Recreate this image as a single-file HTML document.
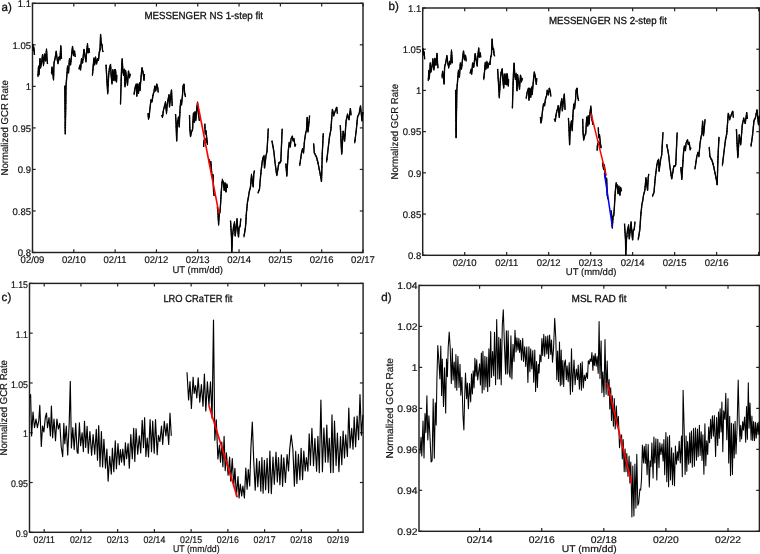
<!DOCTYPE html>
<html><head><meta charset="utf-8"><style>
html,body{margin:0;padding:0;background:#fff;}
svg{display:block;will-change:transform;}
text{font-family:"Liberation Sans",sans-serif;fill:#111;stroke:#111;stroke-width:0.18px;text-rendering:geometricPrecision;}
.t{stroke-width:0.3px;}
</style></head><body>
<svg width="760" height="554" viewBox="0 0 760 554">
<rect x="32.50" y="3.30" width="330.50" height="249.20" fill="none" stroke="#222" stroke-width="1.45"/>
<line x1="32.50" y1="252.50" x2="35.70" y2="252.50" stroke="#222" stroke-width="1.2"/>
<line x1="363.00" y1="252.50" x2="359.80" y2="252.50" stroke="#222" stroke-width="1.2"/>
<text x="31.00" y="256.30" font-size="9.7" text-anchor="end" textLength="13.21" lengthAdjust="spacingAndGlyphs" >0.8</text>
<line x1="32.50" y1="210.97" x2="35.70" y2="210.97" stroke="#222" stroke-width="1.2"/>
<line x1="363.00" y1="210.97" x2="359.80" y2="210.97" stroke="#222" stroke-width="1.2"/>
<text x="31.00" y="214.77" font-size="9.7" text-anchor="end" textLength="18.5" lengthAdjust="spacingAndGlyphs" >0.85</text>
<line x1="32.50" y1="169.43" x2="35.70" y2="169.43" stroke="#222" stroke-width="1.2"/>
<line x1="363.00" y1="169.43" x2="359.80" y2="169.43" stroke="#222" stroke-width="1.2"/>
<text x="31.00" y="173.23" font-size="9.7" text-anchor="end" textLength="13.21" lengthAdjust="spacingAndGlyphs" >0.9</text>
<line x1="32.50" y1="127.90" x2="35.70" y2="127.90" stroke="#222" stroke-width="1.2"/>
<line x1="363.00" y1="127.90" x2="359.80" y2="127.90" stroke="#222" stroke-width="1.2"/>
<text x="31.00" y="131.70" font-size="9.7" text-anchor="end" textLength="18.5" lengthAdjust="spacingAndGlyphs" >0.95</text>
<line x1="32.50" y1="86.37" x2="35.70" y2="86.37" stroke="#222" stroke-width="1.2"/>
<line x1="363.00" y1="86.37" x2="359.80" y2="86.37" stroke="#222" stroke-width="1.2"/>
<text x="31.00" y="90.17" font-size="9.7" text-anchor="end" textLength="5.29" lengthAdjust="spacingAndGlyphs" >1</text>
<line x1="32.50" y1="44.83" x2="35.70" y2="44.83" stroke="#222" stroke-width="1.2"/>
<line x1="363.00" y1="44.83" x2="359.80" y2="44.83" stroke="#222" stroke-width="1.2"/>
<text x="31.00" y="48.63" font-size="9.7" text-anchor="end" textLength="18.5" lengthAdjust="spacingAndGlyphs" >1.05</text>
<line x1="32.50" y1="3.30" x2="35.70" y2="3.30" stroke="#222" stroke-width="1.2"/>
<line x1="363.00" y1="3.30" x2="359.80" y2="3.30" stroke="#222" stroke-width="1.2"/>
<text x="31.00" y="7.10" font-size="9.7" text-anchor="end" textLength="13.21" lengthAdjust="spacingAndGlyphs" >1.1</text>
<line x1="32.50" y1="252.50" x2="32.50" y2="249.30" stroke="#222" stroke-width="1.2"/>
<line x1="32.50" y1="3.30" x2="32.50" y2="6.50" stroke="#222" stroke-width="1.2"/>
<text x="32.50" y="263.00" font-size="9.7" text-anchor="middle" textLength="23.79" lengthAdjust="spacingAndGlyphs" >02/09</text>
<line x1="73.81" y1="252.50" x2="73.81" y2="249.30" stroke="#222" stroke-width="1.2"/>
<line x1="73.81" y1="3.30" x2="73.81" y2="6.50" stroke="#222" stroke-width="1.2"/>
<text x="73.81" y="263.00" font-size="9.7" text-anchor="middle" textLength="23.79" lengthAdjust="spacingAndGlyphs" >02/10</text>
<line x1="115.12" y1="252.50" x2="115.12" y2="249.30" stroke="#222" stroke-width="1.2"/>
<line x1="115.12" y1="3.30" x2="115.12" y2="6.50" stroke="#222" stroke-width="1.2"/>
<text x="115.12" y="263.00" font-size="9.7" text-anchor="middle" textLength="23.08" lengthAdjust="spacingAndGlyphs" >02/11</text>
<line x1="156.44" y1="252.50" x2="156.44" y2="249.30" stroke="#222" stroke-width="1.2"/>
<line x1="156.44" y1="3.30" x2="156.44" y2="6.50" stroke="#222" stroke-width="1.2"/>
<text x="156.44" y="263.00" font-size="9.7" text-anchor="middle" textLength="23.79" lengthAdjust="spacingAndGlyphs" >02/12</text>
<line x1="197.75" y1="252.50" x2="197.75" y2="249.30" stroke="#222" stroke-width="1.2"/>
<line x1="197.75" y1="3.30" x2="197.75" y2="6.50" stroke="#222" stroke-width="1.2"/>
<text x="197.75" y="263.00" font-size="9.7" text-anchor="middle" textLength="23.79" lengthAdjust="spacingAndGlyphs" >02/13</text>
<line x1="239.06" y1="252.50" x2="239.06" y2="249.30" stroke="#222" stroke-width="1.2"/>
<line x1="239.06" y1="3.30" x2="239.06" y2="6.50" stroke="#222" stroke-width="1.2"/>
<text x="239.06" y="263.00" font-size="9.7" text-anchor="middle" textLength="23.79" lengthAdjust="spacingAndGlyphs" >02/14</text>
<line x1="280.38" y1="252.50" x2="280.38" y2="249.30" stroke="#222" stroke-width="1.2"/>
<line x1="280.38" y1="3.30" x2="280.38" y2="6.50" stroke="#222" stroke-width="1.2"/>
<text x="280.38" y="263.00" font-size="9.7" text-anchor="middle" textLength="23.79" lengthAdjust="spacingAndGlyphs" >02/15</text>
<line x1="321.69" y1="252.50" x2="321.69" y2="249.30" stroke="#222" stroke-width="1.2"/>
<line x1="321.69" y1="3.30" x2="321.69" y2="6.50" stroke="#222" stroke-width="1.2"/>
<text x="321.69" y="263.00" font-size="9.7" text-anchor="middle" textLength="23.79" lengthAdjust="spacingAndGlyphs" >02/16</text>
<line x1="363.00" y1="252.50" x2="363.00" y2="249.30" stroke="#222" stroke-width="1.2"/>
<line x1="363.00" y1="3.30" x2="363.00" y2="6.50" stroke="#222" stroke-width="1.2"/>
<text x="363.00" y="263.00" font-size="9.7" text-anchor="middle" textLength="23.79" lengthAdjust="spacingAndGlyphs" >02/17</text>
<text x="197.75" y="272.50" font-size="9.7" text-anchor="middle" textLength="50.52" lengthAdjust="spacingAndGlyphs" >UT (mm/dd)</text>
<text x="8.10" y="175.50" font-size="10" text-anchor="start" textLength="95.3" lengthAdjust="spacingAndGlyphs" transform="rotate(-90 8.1 175.5)">Normalized GCR Rate</text>
<text x="144.50" y="18.50" font-size="10.3" text-anchor="start" textLength="118.5" lengthAdjust="spacingAndGlyphs" class="t">MESSENGER NS 1-step fit</text>
<text x="1.50" y="10.60" font-size="11.6" text-anchor="start" class="t">a)</text>
<rect x="422.70" y="8.00" width="336.80" height="247.30" fill="none" stroke="#222" stroke-width="1.45"/>
<line x1="422.70" y1="255.30" x2="425.90" y2="255.30" stroke="#222" stroke-width="1.2"/>
<line x1="759.50" y1="255.30" x2="756.30" y2="255.30" stroke="#222" stroke-width="1.2"/>
<text x="421.20" y="259.10" font-size="9.7" text-anchor="end" textLength="13.21" lengthAdjust="spacingAndGlyphs" >0.8</text>
<line x1="422.70" y1="214.08" x2="425.90" y2="214.08" stroke="#222" stroke-width="1.2"/>
<line x1="759.50" y1="214.08" x2="756.30" y2="214.08" stroke="#222" stroke-width="1.2"/>
<text x="421.20" y="217.88" font-size="9.7" text-anchor="end" textLength="18.5" lengthAdjust="spacingAndGlyphs" >0.85</text>
<line x1="422.70" y1="172.87" x2="425.90" y2="172.87" stroke="#222" stroke-width="1.2"/>
<line x1="759.50" y1="172.87" x2="756.30" y2="172.87" stroke="#222" stroke-width="1.2"/>
<text x="421.20" y="176.67" font-size="9.7" text-anchor="end" textLength="13.21" lengthAdjust="spacingAndGlyphs" >0.9</text>
<line x1="422.70" y1="131.65" x2="425.90" y2="131.65" stroke="#222" stroke-width="1.2"/>
<line x1="759.50" y1="131.65" x2="756.30" y2="131.65" stroke="#222" stroke-width="1.2"/>
<text x="421.20" y="135.45" font-size="9.7" text-anchor="end" textLength="18.5" lengthAdjust="spacingAndGlyphs" >0.95</text>
<line x1="422.70" y1="90.43" x2="425.90" y2="90.43" stroke="#222" stroke-width="1.2"/>
<line x1="759.50" y1="90.43" x2="756.30" y2="90.43" stroke="#222" stroke-width="1.2"/>
<text x="421.20" y="94.23" font-size="9.7" text-anchor="end" textLength="5.29" lengthAdjust="spacingAndGlyphs" >1</text>
<line x1="422.70" y1="49.22" x2="425.90" y2="49.22" stroke="#222" stroke-width="1.2"/>
<line x1="759.50" y1="49.22" x2="756.30" y2="49.22" stroke="#222" stroke-width="1.2"/>
<text x="421.20" y="53.02" font-size="9.7" text-anchor="end" textLength="18.5" lengthAdjust="spacingAndGlyphs" >1.05</text>
<line x1="422.70" y1="8.00" x2="425.90" y2="8.00" stroke="#222" stroke-width="1.2"/>
<line x1="759.50" y1="8.00" x2="756.30" y2="8.00" stroke="#222" stroke-width="1.2"/>
<text x="421.20" y="11.80" font-size="9.7" text-anchor="end" textLength="13.21" lengthAdjust="spacingAndGlyphs" >1.1</text>
<line x1="422.70" y1="255.30" x2="422.70" y2="252.10" stroke="#222" stroke-width="1.2"/>
<line x1="422.70" y1="8.00" x2="422.70" y2="11.20" stroke="#222" stroke-width="1.2"/>
<line x1="464.69" y1="255.30" x2="464.69" y2="252.10" stroke="#222" stroke-width="1.2"/>
<line x1="464.69" y1="8.00" x2="464.69" y2="11.20" stroke="#222" stroke-width="1.2"/>
<text x="464.69" y="265.50" font-size="9.7" text-anchor="middle" textLength="23.79" lengthAdjust="spacingAndGlyphs" >02/10</text>
<line x1="506.68" y1="255.30" x2="506.68" y2="252.10" stroke="#222" stroke-width="1.2"/>
<line x1="506.68" y1="8.00" x2="506.68" y2="11.20" stroke="#222" stroke-width="1.2"/>
<text x="506.68" y="265.50" font-size="9.7" text-anchor="middle" textLength="23.08" lengthAdjust="spacingAndGlyphs" >02/11</text>
<line x1="548.67" y1="255.30" x2="548.67" y2="252.10" stroke="#222" stroke-width="1.2"/>
<line x1="548.67" y1="8.00" x2="548.67" y2="11.20" stroke="#222" stroke-width="1.2"/>
<text x="548.67" y="265.50" font-size="9.7" text-anchor="middle" textLength="23.79" lengthAdjust="spacingAndGlyphs" >02/12</text>
<line x1="590.66" y1="255.30" x2="590.66" y2="252.10" stroke="#222" stroke-width="1.2"/>
<line x1="590.66" y1="8.00" x2="590.66" y2="11.20" stroke="#222" stroke-width="1.2"/>
<text x="590.66" y="265.50" font-size="9.7" text-anchor="middle" textLength="23.79" lengthAdjust="spacingAndGlyphs" >02/13</text>
<line x1="632.65" y1="255.30" x2="632.65" y2="252.10" stroke="#222" stroke-width="1.2"/>
<line x1="632.65" y1="8.00" x2="632.65" y2="11.20" stroke="#222" stroke-width="1.2"/>
<text x="632.65" y="265.50" font-size="9.7" text-anchor="middle" textLength="23.79" lengthAdjust="spacingAndGlyphs" >02/14</text>
<line x1="674.64" y1="255.30" x2="674.64" y2="252.10" stroke="#222" stroke-width="1.2"/>
<line x1="674.64" y1="8.00" x2="674.64" y2="11.20" stroke="#222" stroke-width="1.2"/>
<text x="674.64" y="265.50" font-size="9.7" text-anchor="middle" textLength="23.79" lengthAdjust="spacingAndGlyphs" >02/15</text>
<line x1="716.63" y1="255.30" x2="716.63" y2="252.10" stroke="#222" stroke-width="1.2"/>
<line x1="716.63" y1="8.00" x2="716.63" y2="11.20" stroke="#222" stroke-width="1.2"/>
<text x="716.63" y="265.50" font-size="9.7" text-anchor="middle" textLength="23.79" lengthAdjust="spacingAndGlyphs" >02/16</text>
<line x1="758.62" y1="255.30" x2="758.62" y2="252.10" stroke="#222" stroke-width="1.2"/>
<line x1="758.62" y1="8.00" x2="758.62" y2="11.20" stroke="#222" stroke-width="1.2"/>
<text x="591.10" y="275.00" font-size="9.7" text-anchor="middle" textLength="50.52" lengthAdjust="spacingAndGlyphs" >UT (mm/dd)</text>
<text x="398.30" y="179.50" font-size="10" text-anchor="start" textLength="95.6" lengthAdjust="spacingAndGlyphs" transform="rotate(-90 398.3 179.5)">Normalized GCR Rate</text>
<text x="548.90" y="24.30" font-size="10.3" text-anchor="start" textLength="118" lengthAdjust="spacingAndGlyphs" class="t">MESSENGER NS 2-step fit</text>
<text x="388.50" y="10.40" font-size="11.6" text-anchor="start" class="t">b)</text>
<rect x="29.50" y="283.40" width="333.60" height="248.90" fill="none" stroke="#222" stroke-width="1.45"/>
<line x1="29.50" y1="532.30" x2="32.70" y2="532.30" stroke="#222" stroke-width="1.2"/>
<line x1="363.10" y1="532.30" x2="359.90" y2="532.30" stroke="#222" stroke-width="1.2"/>
<text x="28.00" y="537.00" font-size="9.7" text-anchor="end" textLength="12.22" lengthAdjust="spacingAndGlyphs" >0.9</text>
<line x1="29.50" y1="482.52" x2="32.70" y2="482.52" stroke="#222" stroke-width="1.2"/>
<line x1="363.10" y1="482.52" x2="359.90" y2="482.52" stroke="#222" stroke-width="1.2"/>
<text x="28.00" y="487.22" font-size="9.7" text-anchor="end" textLength="17.11" lengthAdjust="spacingAndGlyphs" >0.95</text>
<line x1="29.50" y1="432.74" x2="32.70" y2="432.74" stroke="#222" stroke-width="1.2"/>
<line x1="363.10" y1="432.74" x2="359.90" y2="432.74" stroke="#222" stroke-width="1.2"/>
<text x="28.00" y="437.44" font-size="9.7" text-anchor="end" textLength="4.89" lengthAdjust="spacingAndGlyphs" >1</text>
<line x1="29.50" y1="382.96" x2="32.70" y2="382.96" stroke="#222" stroke-width="1.2"/>
<line x1="363.10" y1="382.96" x2="359.90" y2="382.96" stroke="#222" stroke-width="1.2"/>
<text x="28.00" y="387.66" font-size="9.7" text-anchor="end" textLength="17.11" lengthAdjust="spacingAndGlyphs" >1.05</text>
<line x1="29.50" y1="333.18" x2="32.70" y2="333.18" stroke="#222" stroke-width="1.2"/>
<line x1="363.10" y1="333.18" x2="359.90" y2="333.18" stroke="#222" stroke-width="1.2"/>
<text x="28.00" y="337.88" font-size="9.7" text-anchor="end" textLength="12.22" lengthAdjust="spacingAndGlyphs" >1.1</text>
<line x1="29.50" y1="283.40" x2="32.70" y2="283.40" stroke="#222" stroke-width="1.2"/>
<line x1="363.10" y1="283.40" x2="359.90" y2="283.40" stroke="#222" stroke-width="1.2"/>
<text x="28.00" y="288.10" font-size="9.7" text-anchor="end" textLength="17.11" lengthAdjust="spacingAndGlyphs" >1.15</text>
<line x1="44.20" y1="532.30" x2="44.20" y2="529.10" stroke="#222" stroke-width="1.2"/>
<line x1="44.20" y1="283.40" x2="44.20" y2="286.60" stroke="#222" stroke-width="1.2"/>
<text x="44.20" y="543.20" font-size="9.7" text-anchor="middle" textLength="21.35" lengthAdjust="spacingAndGlyphs" >02/11</text>
<line x1="80.93" y1="532.30" x2="80.93" y2="529.10" stroke="#222" stroke-width="1.2"/>
<line x1="80.93" y1="283.40" x2="80.93" y2="286.60" stroke="#222" stroke-width="1.2"/>
<text x="80.93" y="543.20" font-size="9.7" text-anchor="middle" textLength="22.0" lengthAdjust="spacingAndGlyphs" >02/12</text>
<line x1="117.66" y1="532.30" x2="117.66" y2="529.10" stroke="#222" stroke-width="1.2"/>
<line x1="117.66" y1="283.40" x2="117.66" y2="286.60" stroke="#222" stroke-width="1.2"/>
<text x="117.66" y="543.20" font-size="9.7" text-anchor="middle" textLength="22.0" lengthAdjust="spacingAndGlyphs" >02/13</text>
<line x1="154.39" y1="532.30" x2="154.39" y2="529.10" stroke="#222" stroke-width="1.2"/>
<line x1="154.39" y1="283.40" x2="154.39" y2="286.60" stroke="#222" stroke-width="1.2"/>
<text x="154.39" y="543.20" font-size="9.7" text-anchor="middle" textLength="22.0" lengthAdjust="spacingAndGlyphs" >02/14</text>
<line x1="191.12" y1="532.30" x2="191.12" y2="529.10" stroke="#222" stroke-width="1.2"/>
<line x1="191.12" y1="283.40" x2="191.12" y2="286.60" stroke="#222" stroke-width="1.2"/>
<text x="191.12" y="543.20" font-size="9.7" text-anchor="middle" textLength="22.0" lengthAdjust="spacingAndGlyphs" >02/15</text>
<line x1="227.86" y1="532.30" x2="227.86" y2="529.10" stroke="#222" stroke-width="1.2"/>
<line x1="227.86" y1="283.40" x2="227.86" y2="286.60" stroke="#222" stroke-width="1.2"/>
<text x="227.86" y="543.20" font-size="9.7" text-anchor="middle" textLength="22.0" lengthAdjust="spacingAndGlyphs" >02/16</text>
<line x1="264.59" y1="532.30" x2="264.59" y2="529.10" stroke="#222" stroke-width="1.2"/>
<line x1="264.59" y1="283.40" x2="264.59" y2="286.60" stroke="#222" stroke-width="1.2"/>
<text x="264.59" y="543.20" font-size="9.7" text-anchor="middle" textLength="22.0" lengthAdjust="spacingAndGlyphs" >02/17</text>
<line x1="301.32" y1="532.30" x2="301.32" y2="529.10" stroke="#222" stroke-width="1.2"/>
<line x1="301.32" y1="283.40" x2="301.32" y2="286.60" stroke="#222" stroke-width="1.2"/>
<text x="301.32" y="543.20" font-size="9.7" text-anchor="middle" textLength="22.0" lengthAdjust="spacingAndGlyphs" >02/18</text>
<line x1="338.05" y1="532.30" x2="338.05" y2="529.10" stroke="#222" stroke-width="1.2"/>
<line x1="338.05" y1="283.40" x2="338.05" y2="286.60" stroke="#222" stroke-width="1.2"/>
<text x="338.05" y="543.20" font-size="9.7" text-anchor="middle" textLength="22.0" lengthAdjust="spacingAndGlyphs" >02/19</text>
<text x="196.30" y="551.60" font-size="9.7" text-anchor="middle" textLength="46.73" lengthAdjust="spacingAndGlyphs" >UT (mm/dd)</text>
<text x="7.00" y="455.40" font-size="10" text-anchor="start" textLength="95.3" lengthAdjust="spacingAndGlyphs" transform="rotate(-90 7.0 455.4)">Normalized GCR Rate</text>
<text x="163.40" y="302.20" font-size="10.3" text-anchor="start" textLength="69" lengthAdjust="spacingAndGlyphs" class="t">LRO CRaTER fit</text>
<text x="1.60" y="300.90" font-size="11.6" text-anchor="start" class="t">c)</text>
<rect x="419.00" y="285.45" width="340.40" height="245.85" fill="none" stroke="#222" stroke-width="1.45"/>
<line x1="419.00" y1="531.30" x2="422.20" y2="531.30" stroke="#222" stroke-width="1.2"/>
<line x1="759.40" y1="531.30" x2="756.20" y2="531.30" stroke="#222" stroke-width="1.2"/>
<text x="417.50" y="535.10" font-size="9.7" text-anchor="end" textLength="20.17" lengthAdjust="spacingAndGlyphs" >0.92</text>
<line x1="419.00" y1="490.33" x2="422.20" y2="490.33" stroke="#222" stroke-width="1.2"/>
<line x1="759.40" y1="490.33" x2="756.20" y2="490.33" stroke="#222" stroke-width="1.2"/>
<text x="417.50" y="494.13" font-size="9.7" text-anchor="end" textLength="20.17" lengthAdjust="spacingAndGlyphs" >0.94</text>
<line x1="419.00" y1="449.35" x2="422.20" y2="449.35" stroke="#222" stroke-width="1.2"/>
<line x1="759.40" y1="449.35" x2="756.20" y2="449.35" stroke="#222" stroke-width="1.2"/>
<text x="417.50" y="453.15" font-size="9.7" text-anchor="end" textLength="20.17" lengthAdjust="spacingAndGlyphs" >0.96</text>
<line x1="419.00" y1="408.38" x2="422.20" y2="408.38" stroke="#222" stroke-width="1.2"/>
<line x1="759.40" y1="408.38" x2="756.20" y2="408.38" stroke="#222" stroke-width="1.2"/>
<text x="417.50" y="412.18" font-size="9.7" text-anchor="end" textLength="20.17" lengthAdjust="spacingAndGlyphs" >0.98</text>
<line x1="419.00" y1="367.40" x2="422.20" y2="367.40" stroke="#222" stroke-width="1.2"/>
<line x1="759.40" y1="367.40" x2="756.20" y2="367.40" stroke="#222" stroke-width="1.2"/>
<text x="417.50" y="371.20" font-size="9.7" text-anchor="end" textLength="5.76" lengthAdjust="spacingAndGlyphs" >1</text>
<line x1="419.00" y1="326.43" x2="422.20" y2="326.43" stroke="#222" stroke-width="1.2"/>
<line x1="759.40" y1="326.43" x2="756.20" y2="326.43" stroke="#222" stroke-width="1.2"/>
<text x="417.50" y="330.23" font-size="9.7" text-anchor="end" textLength="20.17" lengthAdjust="spacingAndGlyphs" >1.02</text>
<line x1="419.00" y1="285.45" x2="422.20" y2="285.45" stroke="#222" stroke-width="1.2"/>
<line x1="759.40" y1="285.45" x2="756.20" y2="285.45" stroke="#222" stroke-width="1.2"/>
<text x="417.50" y="289.25" font-size="9.7" text-anchor="end" textLength="20.17" lengthAdjust="spacingAndGlyphs" >1.04</text>
<line x1="479.61" y1="531.30" x2="479.61" y2="528.10" stroke="#222" stroke-width="1.2"/>
<line x1="479.61" y1="285.45" x2="479.61" y2="288.65" stroke="#222" stroke-width="1.2"/>
<text x="479.61" y="543.00" font-size="9.7" text-anchor="middle" textLength="25.93" lengthAdjust="spacingAndGlyphs" >02/14</text>
<line x1="541.71" y1="531.30" x2="541.71" y2="528.10" stroke="#222" stroke-width="1.2"/>
<line x1="541.71" y1="285.45" x2="541.71" y2="288.65" stroke="#222" stroke-width="1.2"/>
<text x="541.71" y="543.00" font-size="9.7" text-anchor="middle" textLength="25.93" lengthAdjust="spacingAndGlyphs" >02/16</text>
<line x1="603.81" y1="531.30" x2="603.81" y2="528.10" stroke="#222" stroke-width="1.2"/>
<line x1="603.81" y1="285.45" x2="603.81" y2="288.65" stroke="#222" stroke-width="1.2"/>
<text x="603.81" y="543.00" font-size="9.7" text-anchor="middle" textLength="25.93" lengthAdjust="spacingAndGlyphs" >02/18</text>
<line x1="665.91" y1="531.30" x2="665.91" y2="528.10" stroke="#222" stroke-width="1.2"/>
<line x1="665.91" y1="285.45" x2="665.91" y2="288.65" stroke="#222" stroke-width="1.2"/>
<text x="665.91" y="543.00" font-size="9.7" text-anchor="middle" textLength="25.93" lengthAdjust="spacingAndGlyphs" >02/20</text>
<line x1="728.01" y1="531.30" x2="728.01" y2="528.10" stroke="#222" stroke-width="1.2"/>
<line x1="728.01" y1="285.45" x2="728.01" y2="288.65" stroke="#222" stroke-width="1.2"/>
<text x="728.01" y="543.00" font-size="9.7" text-anchor="middle" textLength="25.93" lengthAdjust="spacingAndGlyphs" >02/22</text>
<text x="589.20" y="551.60" font-size="9.7" text-anchor="middle" textLength="55.07" lengthAdjust="spacingAndGlyphs" >UT (mm/dd)</text>
<text x="392.80" y="458.60" font-size="10" text-anchor="start" textLength="100.5" lengthAdjust="spacingAndGlyphs" transform="rotate(-90 392.8 458.6)">Normalized GCR Rate</text>
<text x="571.50" y="301.90" font-size="10.3" text-anchor="start" textLength="55" lengthAdjust="spacingAndGlyphs" class="t">MSL RAD fit</text>
<text x="381.20" y="301.10" font-size="11.6" text-anchor="start" class="t">d)</text>
<polyline points="32.6,44.0 33.3,50.0 33.8,47.0 34.5,55.0" fill="none" stroke="#000" stroke-width="1.35" stroke-linejoin="round"/>
<polyline points="38.0,76.5 38.5,67.0 39.0,74.0 40.0,59.0 40.5,68.0 41.5,63.0 42.5,55.0 43.5,65.0 44.5,54.0 45.5,61.0 46.5,49.5 47.0,58.0 47.5,64.0" fill="none" stroke="#000" stroke-width="1.35" stroke-linejoin="round"/>
<polyline points="51.5,73.0 52.0,67.0 53.0,75.0 53.5,79.5 54.0,63.0 55.0,59.0 56.2,51.5 57.0,58.0 58.0,63.0 59.0,57.0 60.0,59.0 60.8,46.5 61.5,59.0" fill="none" stroke="#000" stroke-width="1.35" stroke-linejoin="round"/>
<polyline points="64.8,85.6 65.3,134.0 66.0,86.0 66.5,80.0 67.5,67.0 68.5,73.0 69.5,59.0 70.5,65.0 71.5,56.0 72.5,46.5 73.5,55.0 74.5,51.0 75.2,57.0" fill="none" stroke="#000" stroke-width="1.35" stroke-linejoin="round"/>
<polyline points="79.0,69.0 80.0,65.0 80.5,70.0 81.5,59.0 82.5,63.0 84.0,49.5 85.0,56.0 86.0,61.0 86.5,53.0 87.5,44.0 88.0,53.0 89.0,49.0 89.5,53.0" fill="none" stroke="#000" stroke-width="1.35" stroke-linejoin="round"/>
<polyline points="92.4,75.0 93.0,69.0 93.9,58.0 94.6,65.0 95.5,57.0 96.5,64.0 97.5,59.0 98.5,60.0 99.2,53.0 100.0,50.0 100.6,34.5 101.3,45.0 102.0,44.0 102.5,50.0 103.2,52.0" fill="none" stroke="#000" stroke-width="1.35" stroke-linejoin="round"/>
<polyline points="106.0,64.7 107.7,93.0 108.7,75.0 109.5,68.0 110.5,64.5 111.2,76.0 112.0,84.0 112.6,70.0 113.5,80.0 114.3,70.0 115.0,80.0 115.5,70.0 116.5,82.0 116.8,75.0" fill="none" stroke="#000" stroke-width="1.35" stroke-linejoin="round"/>
<polyline points="120.5,104.0 121.5,70.0 122.2,59.0 122.8,70.0 123.5,75.0 124.2,70.0 125.0,86.0 125.6,71.0 126.5,77.0 127.5,85.0 128.5,71.0 129.5,77.0 130.5,74.0" fill="none" stroke="#000" stroke-width="1.35" stroke-linejoin="round"/>
<polyline points="134.1,94.4 135.0,88.0 136.2,84.0 136.8,96.0 137.6,84.0 138.5,93.0 139.5,83.0 140.0,90.0 141.0,78.0 142.0,68.0 143.0,72.0 144.0,80.0 144.5,74.0" fill="none" stroke="#000" stroke-width="1.35" stroke-linejoin="round"/>
<polyline points="148.0,113.0 148.5,119.0 149.2,116.0 150.0,108.0 150.5,104.0 151.0,100.0 152.0,102.0 153.0,95.0 154.0,92.0 154.8,86.0 155.8,91.0 156.8,84.0 157.8,88.0 158.2,92.5" fill="none" stroke="#000" stroke-width="1.35" stroke-linejoin="round"/>
<polyline points="161.5,115.0 162.5,117.0 163.5,110.0 164.5,106.0 165.5,102.5 166.5,113.0 167.2,105.0 168.0,100.0 169.0,95.0 169.5,107.0 170.5,98.0 171.5,90.0 172.2,106.0" fill="none" stroke="#000" stroke-width="1.35" stroke-linejoin="round"/>
<polyline points="175.5,114.0 176.0,122.0 176.7,141.0 177.3,124.0 178.5,117.0 179.2,127.0 180.0,110.0 180.8,100.0 181.5,105.0 182.5,95.0 183.0,86.0 184.0,84.0 184.5,92.0 185.5,97.0" fill="none" stroke="#000" stroke-width="1.35" stroke-linejoin="round"/>
<polyline points="189.5,115.0 189.8,128.0 190.5,136.5 191.5,132.0 192.5,130.0 193.5,113.0 194.5,122.0 195.0,112.0 195.8,120.0 196.8,108.0 197.5,103.0 198.5,115.0 199.5,121.0" fill="none" stroke="#000" stroke-width="1.35" stroke-linejoin="round"/>
<polyline points="204.8,123.6 205.2,134.0 206.0,131.0 206.7,138.0 207.5,144.0 206.5,141.0 205.0,139.0 204.0,141.0 203.6,147.0" fill="none" stroke="#000" stroke-width="1.35" stroke-linejoin="round"/>
<polyline points="209.0,159.0 210.0,166.0 210.8,162.0 211.5,170.0 212.2,178.0 213.0,175.0 213.6,192.0 214.2,196.0" fill="none" stroke="#000" stroke-width="1.35" stroke-linejoin="round"/>
<polyline points="217.3,207.0 218.0,212.0 218.6,224.4 219.2,214.0 220.0,212.0 220.5,205.0 221.2,193.0 221.8,185.0 222.4,180.0 223.3,182.0 224.2,190.0 225.0,183.0 226.0,192.0 226.8,184.0 227.4,188.0" fill="none" stroke="#000" stroke-width="1.35" stroke-linejoin="round"/>
<polyline points="230.5,220.5 231.5,237.0 231.8,252.0 232.5,236.0 233.5,227.0 234.5,222.5 235.2,236.0 236.0,229.0 237.0,219.5 237.8,230.0 238.5,237.0 239.2,227.0 240.0,227.0 240.8,218.5" fill="none" stroke="#000" stroke-width="1.35" stroke-linejoin="round"/>
<polyline points="244.0,236.5 245.5,227.0 246.5,212.0 247.5,202.0 248.5,197.0 249.0,193.0 250.0,189.0 250.5,187.0 251.5,175.0 252.5,182.0 253.2,187.0 253.8,174.0 254.5,170.5" fill="none" stroke="#000" stroke-width="1.35" stroke-linejoin="round"/>
<polyline points="258.0,193.0 259.5,189.0 260.5,177.0 261.2,170.0 262.2,162.0 263.0,158.0 264.0,156.0 264.5,168.0 265.5,160.0 266.0,155.6 267.0,151.6 268.3,128.5" fill="none" stroke="#000" stroke-width="1.35" stroke-linejoin="round"/>
<polyline points="271.9,140.7 273.9,151.6 274.9,161.6 276.8,175.5 278.8,163.5 280.8,161.6 282.2,128.8" fill="none" stroke="#000" stroke-width="1.35" stroke-linejoin="round"/>
<polyline points="285.8,163.5 286.8,175.5 288.4,149.6 289.2,143.0 290.3,147.0 291.0,139.0 292.3,136.0 293.0,141.0 294.0,139.0 295.0,146.0 295.7,144.0" fill="none" stroke="#000" stroke-width="1.35" stroke-linejoin="round"/>
<polyline points="299.7,165.5 301.5,153.0 302.5,149.0 303.5,153.0 304.5,141.0 305.5,134.0 306.5,130.0 307.2,117.5 308.0,132.0 309.0,122.0 309.6,115.5" fill="none" stroke="#000" stroke-width="1.35" stroke-linejoin="round"/>
<polyline points="313.6,143.3 314.3,152.7 316.5,157.0 318.0,162.8 319.4,170.0 320.8,177.0 321.5,181.4 322.3,152.7 323.3,133.2" fill="none" stroke="#000" stroke-width="1.35" stroke-linejoin="round"/>
<polyline points="326.6,161.4 328.0,149.8 329.5,136.8 330.9,129.6 332.4,109.4 333.8,115.2 335.3,110.9 336.7,107.3 337.4,113.8" fill="none" stroke="#000" stroke-width="1.35" stroke-linejoin="round"/>
<polyline points="340.3,125.3 341.7,154.2 343.2,131.1 344.6,141.2 346.1,121.0 347.5,114.5 349.0,119.5 350.4,108.7 351.1,115.2" fill="none" stroke="#000" stroke-width="1.35" stroke-linejoin="round"/>
<polyline points="354.7,142.6 356.2,131.1 357.6,116.6 359.1,113.8 360.5,105.8 362.0,121.0 362.8,112.0" fill="none" stroke="#000" stroke-width="1.35" stroke-linejoin="round"/>
<polyline points="32.6,45.3 32.8,44.3 33.0,47.9 33.1,47.8 33.3,51.0 33.5,47.6 33.8,48.3 33.9,47.8 34.1,51.2 34.2,50.7 34.4,54.8 34.5,55.0" fill="none" stroke="#000" stroke-width="0.9" stroke-linejoin="round"/>
<polyline points="38.0,77.1 38.1,73.8 38.1,75.0 38.2,71.7 38.3,72.0 38.4,68.8 38.4,69.5 38.5,65.7 38.6,68.9 38.7,69.3 38.8,72.5 38.9,71.7 39.0,75.3 39.1,72.2 39.2,72.2 39.3,68.7 39.4,69.2 39.5,65.7 39.5,67.2 39.6,64.0 39.7,63.6 39.8,60.7 39.9,61.8 40.0,58.1 40.1,61.2 40.2,61.1 40.2,64.0 40.3,64.3 40.4,67.4 40.5,67.0 40.8,67.0 41.2,64.0 41.5,63.7 41.7,60.5 41.9,60.6 42.1,57.7 42.3,57.9 42.5,54.0 42.6,57.6 42.8,57.2 42.9,60.8 43.1,59.4 43.2,62.7 43.4,62.8 43.5,66.2 43.6,62.4 43.8,63.7 43.9,60.0 44.0,60.8 44.1,57.0 44.2,57.5 44.4,54.3 44.5,55.4 44.7,54.1 44.9,57.8 45.1,57.1 45.3,60.1 45.5,60.3 45.6,60.8 45.8,57.2 45.9,57.3 46.0,54.2 46.1,55.0 46.2,51.2 46.4,51.8 46.5,48.6 46.6,51.9 46.7,51.1 46.8,54.7 46.8,54.3 46.9,57.5 47.0,57.5 47.1,60.0 47.2,59.8 47.4,64.0 47.5,64.0" fill="none" stroke="#000" stroke-width="0.9" stroke-linejoin="round"/>
<polyline points="51.5,74.5 51.6,70.1 51.8,70.5 51.9,68.0 52.0,68.3 52.2,67.4 52.4,71.4 52.6,71.0 52.8,74.5 53.0,73.9 53.2,77.6 53.3,77.4 53.5,80.4 53.5,77.3 53.6,78.0 53.6,73.9 53.7,75.4 53.7,71.6 53.8,72.2 53.8,69.1 53.8,69.0 53.9,66.6 53.9,66.7 54.0,63.6 54.0,63.8 54.5,59.6 55.0,60.0 55.2,56.5 55.5,56.7 55.7,54.0 56.0,53.8 56.2,50.9 56.4,54.1 56.6,53.3 56.8,57.5 57.0,57.4 57.3,61.1 57.7,60.0 58.0,64.2 58.2,60.1 58.5,61.3 58.8,57.2 59.0,57.8 59.5,56.5 60.0,60.5 60.1,57.0 60.2,57.5 60.3,53.6 60.4,54.4 60.4,51.0 60.5,51.6 60.6,47.9 60.7,48.9 60.8,45.2 60.9,48.7 61.0,47.9 61.0,52.1 61.1,51.1 61.2,54.5 61.3,53.4 61.3,57.4 61.4,56.7 61.5,59.0" fill="none" stroke="#000" stroke-width="0.9" stroke-linejoin="round"/>
<polyline points="64.8,86.3 64.8,86.0 64.8,89.2 64.8,88.7 64.9,92.2 64.9,92.0 64.9,94.4 64.9,94.0 64.9,97.4 64.9,97.3 64.9,100.9 65.0,99.9 65.0,103.5 65.0,102.6 65.0,106.1 65.0,105.7 65.0,108.8 65.0,107.7 65.1,111.5 65.1,110.6 65.1,114.4 65.1,114.1 65.1,117.3 65.1,116.3 65.1,119.6 65.2,119.7 65.2,122.9 65.2,122.0 65.2,125.5 65.2,124.3 65.2,128.3 65.2,127.1 65.3,130.7 65.3,129.9 65.3,133.5 65.3,132.6 65.3,134.0 65.3,130.7 65.4,130.5 65.4,127.8 65.4,128.6 65.4,124.9 65.4,125.5 65.5,122.3 65.5,122.6 65.5,119.4 65.5,119.7 65.5,116.5 65.6,117.2 65.6,113.4 65.6,114.6 65.6,110.6 65.6,112.0 65.7,107.8 65.7,109.1 65.7,106.0 65.7,106.6 65.7,102.4 65.8,103.9 65.8,100.0 65.8,100.9 65.8,97.7 65.8,98.3 65.9,94.5 65.9,95.0 65.9,92.3 65.9,92.8 65.9,88.6 66.0,89.3 66.0,86.1 66.0,86.9 66.1,83.9 66.2,83.8 66.4,80.2 66.5,81.4 66.6,78.1 66.7,78.2 66.8,75.2 66.9,75.4 67.1,72.0 67.2,72.7 67.3,68.4 67.4,69.4 67.5,65.5 67.8,69.3 68.0,69.5 68.2,72.6 68.5,72.5 68.6,72.3 68.7,69.3 68.8,69.9 68.9,66.8 69.0,66.5 69.1,63.2 69.2,64.0 69.3,60.3 69.4,61.8 69.5,58.2 69.8,61.4 70.0,61.0 70.2,64.6 70.5,63.9 70.7,64.5 70.8,60.9 71.0,61.9 71.2,58.0 71.3,58.4 71.5,54.8 71.6,55.3 71.8,52.5 71.9,53.4 72.1,49.6 72.2,50.2 72.4,47.4 72.5,47.4 72.7,46.9 72.8,49.8 73.0,49.7 73.2,53.3 73.3,53.1 73.5,56.1 74.0,52.1 74.5,52.2 74.7,51.7 74.8,55.2 75.0,54.3 75.2,57.0" fill="none" stroke="#000" stroke-width="0.9" stroke-linejoin="round"/>
<polyline points="79.0,69.7 79.5,66.4 80.0,65.9 80.2,66.1 80.3,68.9 80.5,69.1 80.6,70.0 80.8,66.0 80.9,67.1 81.0,63.8 81.1,64.1 81.2,61.0 81.4,61.0 81.5,58.4 82.0,61.7 82.5,61.6 82.7,63.0 82.8,59.0 83.0,60.2 83.1,56.9 83.2,57.0 83.4,53.8 83.5,54.8 83.7,50.9 83.8,52.2 84.0,49.0 84.2,52.2 84.5,51.6 84.8,55.4 85.0,55.4 85.3,58.6 85.7,58.8 86.0,62.4 86.1,58.0 86.2,58.8 86.3,55.4 86.4,56.0 86.5,51.9 86.7,52.9 86.8,48.7 87.0,49.5 87.2,46.1 87.3,46.6 87.5,43.1 87.6,46.1 87.7,46.2 87.8,49.8 87.8,49.5 87.9,52.0 88.0,51.9 88.5,51.7 89.0,48.0 89.2,51.9 89.5,53.0" fill="none" stroke="#000" stroke-width="0.9" stroke-linejoin="round"/>
<polyline points="92.4,76.1 92.6,72.3 92.7,73.3 92.8,69.1 93.0,70.2 93.1,66.2 93.2,66.7 93.3,63.9 93.5,64.9 93.6,61.0 93.7,62.1 93.8,58.8 93.9,58.9 94.0,58.7 94.2,61.8 94.3,61.1 94.5,64.1 94.6,64.3 94.8,64.1 95.0,60.4 95.1,61.5 95.3,58.0 95.5,58.3 95.7,57.8 95.9,60.9 96.1,60.6 96.3,63.1 96.5,62.6 96.8,63.0 97.2,60.0 97.5,60.5 98.0,58.1 98.5,60.8 98.6,57.1 98.8,58.2 98.9,54.6 99.1,55.1 99.2,51.6 99.6,52.7 100.0,48.5 100.1,50.0 100.1,46.4 100.2,46.6 100.2,43.7 100.3,43.6 100.3,41.0 100.4,40.9 100.4,37.6 100.5,37.8 100.5,34.7 100.6,35.3 100.7,35.2 100.8,38.8 100.9,38.0 101.0,41.3 101.1,41.0 101.2,44.7 101.3,44.5 102.0,45.5 102.1,45.0 102.2,48.2 102.4,47.2 102.5,50.5 103.2,52.0" fill="none" stroke="#000" stroke-width="0.9" stroke-linejoin="round"/>
<polyline points="106.0,66.0 106.1,64.8 106.2,68.5 106.3,68.2 106.3,70.8 106.4,70.6 106.5,74.1 106.6,73.4 106.7,76.9 106.8,76.2 106.8,79.6 106.9,79.0 107.0,82.9 107.1,82.2 107.2,85.5 107.3,84.8 107.4,88.0 107.4,87.7 107.5,91.5 107.6,90.9 107.7,94.3 107.8,90.4 107.9,91.6 107.9,88.0 108.0,88.0 108.1,84.8 108.2,86.0 108.2,82.4 108.3,82.5 108.4,79.9 108.5,80.3 108.5,77.0 108.6,77.8 108.7,73.9 108.9,74.3 109.0,71.1 109.2,71.6 109.3,68.0 109.5,69.4 110.0,65.3 110.5,65.6 110.6,64.8 110.7,68.7 110.8,67.3 110.8,70.7 110.9,70.9 111.0,74.2 111.1,73.8 111.2,77.1 111.4,77.1 111.5,80.6 111.7,79.8 111.8,83.0 112.0,82.9 112.1,83.4 112.1,80.5 112.2,80.8 112.2,77.8 112.3,77.7 112.4,74.2 112.4,75.4 112.5,72.3 112.5,72.7 112.6,69.5 112.7,72.2 112.9,71.5 113.0,75.4 113.1,74.9 113.2,78.0 113.4,77.7 113.5,80.6 113.6,77.1 113.7,77.6 113.8,74.8 114.0,75.5 114.1,72.0 114.2,72.9 114.3,69.3 114.4,72.9 114.5,71.5 114.6,75.4 114.7,74.3 114.8,78.1 114.9,77.2 115.0,81.3 115.1,77.6 115.1,78.1 115.2,74.5 115.3,75.2 115.4,72.3 115.4,72.7 115.5,69.3 115.6,72.5 115.8,71.7 115.9,75.1 116.0,75.5 116.1,78.1 116.2,77.9 116.4,81.3 116.5,81.3 116.6,81.5 116.6,77.8 116.7,78.5 116.7,75.5 116.8,75.0" fill="none" stroke="#000" stroke-width="0.9" stroke-linejoin="round"/>
<polyline points="120.5,104.8 120.5,102.0 120.6,102.4 120.6,99.4 120.7,99.6 120.7,96.4 120.7,96.4 120.8,93.5 120.8,93.6 120.9,90.9 120.9,90.9 120.9,88.5 121.0,88.6 121.0,85.0 121.1,85.5 121.1,82.9 121.1,83.3 121.2,79.4 121.2,80.6 121.3,77.3 121.3,78.3 121.3,74.9 121.4,75.4 121.4,72.0 121.5,72.0 121.5,69.4 121.6,69.4 121.7,65.9 121.8,66.5 121.8,63.4 121.9,64.2 122.0,60.9 122.1,61.4 122.2,58.5 122.3,60.9 122.3,61.1 122.4,64.3 122.5,63.6 122.6,66.7 122.7,66.2 122.7,69.6 122.8,69.2 123.0,73.0 123.3,72.1 123.5,75.7 123.7,72.3 124.0,72.7 124.2,68.6 124.3,72.7 124.3,72.2 124.4,75.8 124.5,75.2 124.6,78.2 124.6,77.5 124.7,80.8 124.8,80.7 124.9,83.6 124.9,83.4 125.0,87.3 125.1,83.6 125.1,84.6 125.2,81.1 125.2,81.7 125.3,78.1 125.3,78.9 125.4,75.5 125.4,76.4 125.5,72.3 125.5,73.3 125.6,69.9 125.8,73.0 126.0,72.8 126.3,76.6 126.5,75.5 126.7,79.9 126.9,79.5 127.1,82.7 127.3,82.2 127.5,85.5 127.6,82.7 127.7,82.8 127.8,80.2 127.9,79.9 128.0,76.7 128.1,77.2 128.2,74.5 128.3,74.7 128.4,71.0 128.5,71.5 128.8,71.6 129.0,75.0 129.2,74.1 129.5,78.3 130.0,74.1 130.5,74.0" fill="none" stroke="#000" stroke-width="0.9" stroke-linejoin="round"/>
<polyline points="134.1,95.1 134.3,91.3 134.6,91.8 134.8,88.4 135.0,88.5 135.6,85.3 136.2,85.5 136.3,84.8 136.3,88.1 136.4,87.6 136.5,90.9 136.6,90.5 136.7,93.7 136.7,93.2 136.8,96.5 136.9,93.8 137.0,93.5 137.1,90.8 137.2,90.9 137.3,87.1 137.4,87.8 137.5,84.9 137.6,84.7 137.8,84.0 137.9,87.5 138.1,87.4 138.2,90.8 138.3,90.4 138.5,93.8 138.6,90.4 138.8,91.1 138.9,87.6 139.1,88.7 139.2,84.8 139.4,85.0 139.5,82.5 139.6,85.8 139.7,84.8 139.8,87.9 139.9,87.2 140.0,91.1 140.1,87.3 140.2,88.4 140.4,84.8 140.5,84.8 140.6,81.1 140.8,81.6 140.9,78.2 141.0,78.6 141.1,75.4 141.3,76.3 141.4,72.3 141.6,73.6 141.7,69.9 141.9,70.1 142.0,67.4 142.5,71.0 143.0,71.0 143.2,74.1 143.4,73.8 143.6,77.8 143.8,77.2 144.0,80.7 144.1,77.8 144.2,77.5 144.4,74.7 144.5,74.0" fill="none" stroke="#000" stroke-width="0.9" stroke-linejoin="round"/>
<polyline points="148.0,113.9 148.1,113.7 148.2,116.6 148.4,116.1 148.5,119.5 148.8,116.5 149.2,117.4 149.4,113.9 149.5,113.8 149.7,110.1 149.8,110.1 150.0,107.2 150.2,107.2 150.5,103.1 150.8,103.2 151.0,99.4 151.5,101.7 152.0,101.4 152.2,101.6 152.4,97.8 152.6,98.9 152.8,95.1 153.0,95.9 153.5,92.3 154.0,92.6 154.2,89.7 154.4,90.2 154.6,86.3 154.8,86.9 155.1,87.1 155.5,90.1 155.8,90.3 156.0,90.3 156.2,86.9 156.4,87.5 156.6,84.0 156.8,85.4 157.3,85.5 157.8,88.8 157.9,88.5 158.1,91.5 158.2,92.5" fill="none" stroke="#000" stroke-width="0.9" stroke-linejoin="round"/>
<polyline points="161.5,116.0 162.0,115.1 162.5,118.1 162.7,114.9 162.9,115.5 163.1,111.5 163.3,112.5 163.5,109.4 164.0,109.0 164.5,105.2 165.0,105.0 165.5,101.0 165.6,105.5 165.8,105.0 165.9,108.4 166.1,107.4 166.2,110.9 166.4,110.8 166.5,114.2 166.6,110.5 166.8,111.0 166.9,107.1 167.1,107.2 167.2,103.7 167.5,104.8 167.7,100.2 168.0,101.1 168.3,97.8 168.7,97.1 169.0,94.4 169.1,97.9 169.1,97.2 169.2,100.3 169.2,99.6 169.3,103.3 169.4,103.0 169.4,106.4 169.5,106.5 169.7,106.6 169.8,102.7 170.0,103.1 170.2,100.3 170.3,100.4 170.5,97.5 170.7,97.4 170.9,93.5 171.1,94.3 171.3,90.6 171.5,91.3 171.6,90.8 171.6,94.0 171.7,93.5 171.8,96.9 171.8,96.7 171.9,100.0 171.9,99.6 172.0,102.3 172.1,101.8 172.1,106.0 172.2,106.0" fill="none" stroke="#000" stroke-width="0.9" stroke-linejoin="round"/>
<polyline points="175.5,114.9 175.6,114.6 175.7,118.6 175.8,117.9 175.9,121.4 176.0,120.9 176.1,124.0 176.1,123.7 176.2,127.2 176.2,126.1 176.2,129.3 176.3,129.4 176.3,132.0 176.4,131.6 176.4,135.4 176.5,135.1 176.5,138.4 176.6,136.8 176.6,140.8 176.7,139.9 176.8,140.2 176.8,137.7 176.8,137.8 176.9,134.8 176.9,134.6 177.0,131.8 177.1,131.6 177.1,128.7 177.2,129.2 177.2,125.5 177.2,126.4 177.3,122.9 177.5,123.6 177.8,120.1 178.0,120.7 178.3,117.7 178.5,118.5 178.6,116.9 178.7,121.2 178.8,120.1 178.9,123.5 179.0,123.5 179.1,126.3 179.2,126.5 179.3,126.8 179.3,123.3 179.4,124.1 179.5,120.5 179.5,121.4 179.6,117.2 179.7,117.5 179.7,115.0 179.8,115.7 179.9,111.9 179.9,112.9 180.0,109.1 180.1,109.1 180.2,106.0 180.3,107.0 180.5,103.6 180.6,103.4 180.7,100.6 180.8,101.5 181.0,100.4 181.3,103.9 181.5,104.3 181.6,104.1 181.8,101.6 181.9,102.0 182.1,98.6 182.2,98.9 182.4,95.5 182.5,95.7 182.6,92.3 182.7,92.6 182.8,89.4 182.8,89.6 182.9,86.6 183.0,86.7 183.5,84.3 184.0,85.5 184.1,84.3 184.2,88.0 184.3,87.4 184.4,91.1 184.5,91.1 184.8,95.0 185.2,94.2 185.5,97.0" fill="none" stroke="#000" stroke-width="0.9" stroke-linejoin="round"/>
<polyline points="189.5,115.9 189.5,115.3 189.6,119.0 189.6,118.7 189.6,121.2 189.7,121.4 189.7,124.4 189.7,123.8 189.8,127.7 189.8,126.9 189.9,130.5 190.0,129.7 190.2,132.9 190.3,132.8 190.4,135.7 190.5,135.1 190.8,135.5 191.2,132.2 191.5,132.5 192.0,129.8 192.5,130.8 192.6,127.7 192.7,128.5 192.8,125.3 192.8,124.8 192.9,121.5 193.0,122.5 193.1,119.5 193.2,120.2 193.2,115.8 193.3,116.4 193.4,113.5 193.5,113.6 193.7,113.7 193.8,117.1 194.0,116.9 194.2,120.2 194.3,120.0 194.5,122.6 194.6,119.3 194.6,120.0 194.7,116.8 194.8,117.4 194.9,113.9 194.9,114.3 195.0,111.5 195.2,114.8 195.3,113.7 195.5,118.3 195.6,117.3 195.8,120.8 195.9,117.7 196.1,118.2 196.2,114.3 196.3,114.6 196.4,111.8 196.6,111.8 196.7,108.5 196.8,109.3 197.0,105.4 197.3,105.1 197.5,101.7 197.6,105.4 197.8,105.0 197.9,108.2 198.0,108.1 198.1,111.4 198.2,110.7 198.4,114.1 198.5,114.0 198.8,117.1 199.0,116.8 199.2,120.0 199.5,121.0" fill="none" stroke="#000" stroke-width="0.9" stroke-linejoin="round"/>
<polyline points="204.8,124.3 204.9,123.9 204.9,127.7 205.0,126.7 205.0,130.2 205.1,130.3 205.1,133.1 205.2,133.3 205.6,133.7 206.0,130.4 206.1,133.4 206.3,133.1 206.4,136.0 206.6,135.7 206.7,139.3 206.9,138.4 207.1,141.5 207.3,141.8 207.5,144.6 207.0,141.1 206.5,142.3 206.0,139.0 205.5,141.0 205.0,137.8 204.5,141.4 204.0,139.7 203.9,143.2 203.8,142.7 203.7,146.5 203.6,147.0" fill="none" stroke="#000" stroke-width="0.9" stroke-linejoin="round"/>
<polyline points="209.0,159.6 209.2,159.2 209.4,162.9 209.6,161.8 209.8,165.3 210.0,165.3 210.4,165.2 210.8,160.9 210.9,164.4 211.1,164.0 211.2,167.7 211.4,167.1 211.5,170.6 211.6,170.9 211.8,174.6 211.9,174.0 212.1,177.1 212.2,176.7 212.6,177.6 213.0,174.4 213.1,177.4 213.1,176.7 213.2,179.9 213.2,179.5 213.2,182.7 213.3,182.7 213.3,185.5 213.4,185.7 213.4,189.2 213.5,188.3 213.5,192.1 213.6,191.1 213.9,195.1 214.2,196.0" fill="none" stroke="#000" stroke-width="0.9" stroke-linejoin="round"/>
<polyline points="217.3,208.5 217.5,208.2 217.8,211.6 218.0,211.4 218.1,214.9 218.1,214.3 218.2,217.5 218.3,216.3 218.3,220.2 218.4,218.8 218.5,222.3 218.5,222.2 218.6,225.6 218.7,222.2 218.8,222.2 218.9,219.3 218.9,219.8 219.0,215.6 219.1,216.8 219.2,213.3 220.0,213.4 220.1,209.6 220.2,209.9 220.3,206.9 220.4,207.3 220.5,204.5 220.6,204.5 220.7,201.2 220.8,201.5 220.8,197.6 220.9,198.6 221.0,195.1 221.1,195.9 221.2,191.5 221.3,192.4 221.4,188.4 221.6,188.7 221.7,186.0 221.8,185.6 222.0,181.9 222.2,182.8 222.4,178.8 222.9,181.8 223.3,181.0 223.5,185.0 223.7,184.6 223.8,187.4 224.0,187.9 224.2,190.9 224.4,187.3 224.5,188.2 224.7,184.9 224.8,185.4 225.0,182.4 225.2,185.9 225.3,185.2 225.5,188.2 225.7,188.2 225.8,191.8 226.0,191.2 226.2,191.8 226.3,188.0 226.5,188.1 226.6,185.1 226.8,185.4 227.1,184.7 227.4,188.0" fill="none" stroke="#000" stroke-width="0.9" stroke-linejoin="round"/>
<polyline points="230.5,221.3 230.6,220.9 230.7,224.1 230.8,223.7 230.8,226.9 230.9,226.2 231.0,229.5 231.1,229.0 231.2,232.0 231.2,232.1 231.3,235.1 231.4,235.0 231.5,238.2 231.5,237.6 231.6,241.0 231.6,239.6 231.6,243.2 231.6,242.4 231.7,246.5 231.7,245.4 231.7,248.4 231.7,248.3 231.8,251.7 231.8,251.2 231.9,251.2 231.9,248.3 232.0,248.4 232.1,244.9 232.1,245.5 232.2,242.4 232.2,242.9 232.3,238.9 232.4,239.7 232.4,237.0 232.5,237.5 232.7,233.2 232.8,234.3 233.0,230.5 233.2,230.7 233.3,227.9 233.5,227.8 233.8,224.6 234.2,224.5 234.5,221.3 234.6,225.1 234.6,224.7 234.7,227.9 234.8,226.9 234.8,230.7 234.9,229.7 235.0,233.2 235.1,232.4 235.1,235.7 235.2,235.0 235.4,235.1 235.5,232.6 235.7,232.5 235.8,229.5 236.0,229.8 236.1,226.6 236.3,227.4 236.4,224.1 236.6,224.4 236.7,221.2 236.9,222.3 237.0,218.2 237.1,222.1 237.2,221.2 237.3,224.7 237.5,224.9 237.6,227.5 237.7,227.9 237.8,230.5 237.9,230.3 238.1,234.2 238.2,233.6 238.4,236.8 238.5,235.6 238.6,236.8 238.7,233.5 238.8,233.8 238.9,230.6 239.0,230.5 239.1,228.0 239.2,228.0 240.0,225.6 240.1,226.1 240.3,223.6 240.4,223.6 240.5,220.8 240.7,220.9 240.8,218.5" fill="none" stroke="#000" stroke-width="0.9" stroke-linejoin="round"/>
<polyline points="244.0,237.5 244.2,233.8 244.4,235.2 244.6,231.7 244.9,232.3 245.1,228.5 245.3,229.5 245.5,226.4 245.6,226.1 245.7,223.4 245.8,224.1 245.9,220.8 246.0,221.2 246.0,218.0 246.1,218.8 246.2,214.6 246.3,215.6 246.4,211.9 246.5,212.5 246.6,209.3 246.8,210.5 246.9,207.1 247.1,207.5 247.2,203.8 247.4,204.9 247.5,201.3 247.8,201.4 248.2,197.3 248.5,198.1 248.8,194.2 249.0,193.5 249.5,189.6 250.0,189.9 250.5,185.5 250.6,186.1 250.8,182.7 250.9,183.8 251.0,179.6 251.1,180.0 251.2,177.2 251.4,177.0 251.5,173.8 251.7,177.2 251.9,176.3 252.1,180.0 252.3,179.3 252.5,183.4 252.7,183.0 253.0,186.4 253.2,185.5 253.3,186.6 253.3,183.3 253.4,183.4 253.5,179.9 253.5,180.4 253.6,177.2 253.7,177.9 253.7,174.4 253.8,174.6 254.2,171.1 254.5,170.5" fill="none" stroke="#000" stroke-width="0.9" stroke-linejoin="round"/>
<polyline points="258.0,193.6 258.5,190.5 259.0,191.1 259.5,188.3 259.6,188.5 259.8,185.0 259.9,185.5 260.0,182.1 260.1,182.2 260.2,179.3 260.4,179.7 260.5,176.2 260.6,176.8 260.8,172.9 260.9,174.2 261.1,170.0 261.2,170.7 261.4,167.7 261.6,168.0 261.8,164.1 262.0,164.3 262.2,160.8 262.6,161.4 263.0,156.7 263.5,157.7 264.0,155.2 264.1,158.0 264.1,157.5 264.2,161.2 264.2,160.8 264.3,164.5 264.4,163.9 264.4,167.5 264.5,166.7 264.7,167.5 264.9,164.0 265.1,163.8 265.3,160.6 265.5,161.4 265.7,157.9 265.8,158.2 266.0,154.5 266.5,154.2 267.0,150.9 267.1,151.4 267.2,148.0 267.2,148.4 267.3,145.2 267.4,145.4 267.5,142.3 267.5,143.2 267.6,139.7 267.7,140.2 267.8,136.7 267.8,138.0 267.9,134.3 268.0,134.5 268.1,132.0 268.1,131.8 268.2,129.3 268.3,128.5" fill="none" stroke="#000" stroke-width="0.9" stroke-linejoin="round"/>
<polyline points="271.9,141.9 272.1,140.8 272.4,144.4 272.6,143.8 272.9,147.0 273.1,146.0 273.4,149.6 273.6,149.6 273.9,152.3 274.0,152.3 274.2,155.3 274.3,155.2 274.5,157.9 274.6,158.0 274.8,160.9 274.9,160.6 275.1,163.7 275.3,163.9 275.5,166.4 275.7,166.1 275.9,169.4 276.0,168.7 276.2,172.6 276.4,171.8 276.6,174.7 276.8,174.3 277.1,175.2 277.3,171.6 277.6,172.1 277.8,168.7 278.1,169.4 278.3,165.2 278.6,166.3 278.8,162.0 279.3,163.7 279.8,161.5 280.3,163.3 280.8,160.3 280.9,161.1 280.9,158.3 281.0,158.6 281.0,155.6 281.1,156.0 281.1,152.9 281.2,153.0 281.3,149.7 281.3,149.9 281.4,147.0 281.4,147.5 281.5,144.4 281.6,145.2 281.6,141.1 281.7,142.5 281.7,139.0 281.8,138.8 281.9,136.2 281.9,136.2 282.0,133.1 282.0,133.6 282.1,130.9 282.1,130.9 282.2,128.8" fill="none" stroke="#000" stroke-width="0.9" stroke-linejoin="round"/>
<polyline points="285.8,164.9 285.9,163.8 286.1,167.8 286.2,166.6 286.3,170.2 286.4,169.9 286.6,173.9 286.7,172.6 286.8,176.6 286.9,173.5 287.0,173.7 287.1,169.9 287.1,170.6 287.2,167.9 287.3,168.8 287.4,165.0 287.5,165.3 287.6,162.4 287.6,163.3 287.7,159.7 287.8,160.0 287.9,156.7 288.0,157.7 288.1,154.1 288.1,154.2 288.2,151.3 288.3,151.5 288.4,149.1 288.6,148.6 288.8,145.1 289.0,145.4 289.2,141.8 289.8,145.6 290.3,146.4 290.4,145.9 290.6,142.6 290.7,143.6 290.9,139.9 291.0,139.7 291.6,137.0 292.3,137.1 292.5,136.9 292.8,139.9 293.0,139.9 293.5,141.1 294.0,138.1 294.2,141.0 294.4,140.7 294.6,144.2 294.8,143.7 295.0,146.6 295.7,144.0" fill="none" stroke="#000" stroke-width="0.9" stroke-linejoin="round"/>
<polyline points="299.7,166.1 299.9,162.9 300.1,163.8 300.3,160.4 300.5,160.6 300.7,157.3 300.9,158.5 301.1,154.8 301.3,155.4 301.5,152.3 302.0,151.5 302.5,148.2 303.0,152.1 303.5,152.5 303.6,152.8 303.8,149.3 303.9,149.2 304.0,146.5 304.1,147.0 304.2,142.8 304.4,143.9 304.5,139.9 304.7,140.1 304.9,137.4 305.1,137.8 305.3,134.8 305.5,135.4 306.0,131.2 306.5,130.6 306.6,127.3 306.7,127.8 306.7,124.4 306.8,125.4 306.9,122.0 307.0,122.5 307.0,119.3 307.1,119.5 307.2,117.0 307.3,120.3 307.4,119.7 307.4,123.1 307.5,122.6 307.6,126.2 307.7,124.8 307.8,128.9 307.8,127.8 307.9,131.6 308.0,130.8 308.1,131.2 308.3,128.2 308.4,129.0 308.6,125.6 308.7,126.3 308.9,122.0 309.0,122.9 309.1,119.5 309.3,119.7 309.5,116.3 309.6,115.5" fill="none" stroke="#000" stroke-width="0.9" stroke-linejoin="round"/>
<polyline points="313.6,144.8 313.7,144.3 313.8,146.9 314.0,146.5 314.1,150.2 314.2,150.6 314.3,153.8 314.9,153.0 315.4,156.2 315.9,155.2 316.5,158.5 316.9,157.7 317.2,161.0 317.6,159.9 318.0,164.0 318.3,162.8 318.6,166.9 318.8,166.6 319.1,169.9 319.4,168.9 319.7,172.2 320.0,172.2 320.2,175.5 320.5,174.5 320.8,178.4 321.0,177.2 321.3,181.4 321.5,180.4 321.5,181.2 321.6,177.6 321.6,178.0 321.7,174.5 321.7,175.3 321.7,171.9 321.8,173.3 321.8,169.3 321.8,169.7 321.9,166.4 321.9,167.5 322.0,164.4 322.0,164.1 322.0,161.3 322.1,161.4 322.1,158.1 322.1,159.1 322.2,155.8 322.2,156.3 322.3,152.9 322.3,154.1 322.4,150.5 322.4,150.8 322.5,147.5 322.6,147.9 322.7,144.7 322.7,145.4 322.8,142.0 322.9,142.7 322.9,139.2 323.0,139.3 323.1,135.9 323.2,136.8 323.2,133.7 323.3,133.2" fill="none" stroke="#000" stroke-width="0.9" stroke-linejoin="round"/>
<polyline points="326.6,162.8 326.8,158.5 327.0,159.9 327.1,156.5 327.3,156.7 327.5,153.3 327.6,153.7 327.8,150.7 328.0,150.5 328.2,147.4 328.3,147.6 328.5,144.5 328.7,144.5 328.8,142.0 329.0,142.3 329.2,138.8 329.3,139.2 329.5,135.6 329.8,136.2 330.1,133.4 330.3,133.8 330.6,130.0 330.9,130.7 331.0,127.1 331.1,128.2 331.2,124.4 331.3,125.1 331.4,121.5 331.5,122.0 331.6,118.4 331.8,118.8 331.9,116.1 332.0,116.1 332.1,112.5 332.2,113.4 332.3,109.9 332.4,110.5 332.8,110.2 333.1,112.9 333.4,113.0 333.8,116.5 334.3,113.1 334.8,112.9 335.3,110.3 335.8,110.2 336.2,107.8 336.7,108.4 336.9,107.6 337.0,111.3 337.2,111.3 337.4,113.8" fill="none" stroke="#000" stroke-width="0.9" stroke-linejoin="round"/>
<polyline points="340.3,126.5 340.4,125.3 340.4,128.7 340.5,127.9 340.6,131.5 340.6,131.0 340.7,134.1 340.8,133.7 340.8,136.9 340.9,136.5 341.0,140.3 341.0,139.2 341.1,142.7 341.2,141.8 341.2,146.1 341.3,145.4 341.4,148.3 341.4,147.2 341.5,151.3 341.6,150.5 341.6,153.6 341.7,152.7 341.8,153.4 341.9,150.2 342.0,151.5 342.1,148.1 342.1,148.2 342.2,145.3 342.3,145.7 342.4,142.5 342.5,143.4 342.6,139.2 342.7,140.0 342.8,136.5 342.8,137.1 342.9,134.6 343.0,135.0 343.1,131.2 343.2,132.4 343.4,131.1 343.6,135.3 343.8,134.7 344.0,138.1 344.2,136.9 344.4,140.3 344.6,140.2 344.7,140.4 344.8,137.7 344.9,137.8 345.0,134.3 345.1,135.5 345.2,132.0 345.4,132.1 345.5,128.2 345.6,129.5 345.7,125.8 345.8,126.0 345.9,122.8 346.0,123.2 346.1,119.9 346.5,120.5 346.8,116.9 347.1,117.4 347.5,113.6 348.0,117.1 348.5,116.5 349.0,120.2 349.2,117.3 349.4,117.5 349.6,114.0 349.8,114.7 350.0,111.1 350.2,111.1 350.4,108.2 350.6,111.2 350.8,111.2 350.9,114.5 351.1,115.2" fill="none" stroke="#000" stroke-width="0.9" stroke-linejoin="round"/>
<polyline points="354.7,143.4 354.9,139.7 355.1,141.1 355.3,137.6 355.4,138.2 355.6,134.3 355.8,134.5 356.0,131.1 356.2,131.8 356.3,128.9 356.5,129.1 356.6,125.7 356.8,125.9 356.9,122.7 357.0,123.7 357.2,120.0 357.3,120.8 357.5,116.9 357.6,117.9 358.1,115.0 358.6,115.6 359.1,112.9 359.4,112.8 359.7,109.1 359.9,110.1 360.2,106.8 360.5,106.9 360.6,106.3 360.8,109.2 360.9,109.3 361.0,112.3 361.2,112.2 361.3,115.1 361.5,114.5 361.6,117.4 361.7,116.9 361.9,120.1 362.0,120.4 362.1,120.8 362.3,117.3 362.4,117.4 362.5,114.0 362.7,114.4 362.8,112.0" fill="none" stroke="#000" stroke-width="0.9" stroke-linejoin="round"/>
<polyline points="422.8,49.7 423.0,48.6 423.2,52.3 423.3,52.1 423.5,55.3 423.8,52.0 424.0,52.6 424.2,52.2 424.3,55.5 424.5,55.1 424.6,59.1 424.7,59.3" fill="none" stroke="#000" stroke-width="0.9" stroke-linejoin="round"/>
<polyline points="428.3,81.2 428.4,78.0 428.5,79.2 428.5,75.9 428.6,76.2 428.7,73.0 428.7,73.7 428.8,69.9 428.9,73.1 429.0,73.5 429.1,76.7 429.2,75.9 429.3,79.4 429.4,76.4 429.5,76.4 429.6,72.9 429.7,73.4 429.8,70.0 429.9,71.4 430.0,68.2 430.1,67.8 430.2,65.0 430.3,66.1 430.3,62.4 430.4,65.4 430.5,65.4 430.6,68.2 430.7,68.6 430.8,71.6 430.9,71.2 431.2,71.2 431.5,68.2 431.9,67.9 432.1,64.7 432.3,64.8 432.5,62.0 432.7,62.2 432.9,58.3 433.0,61.8 433.2,61.5 433.3,65.0 433.5,63.6 433.6,67.0 433.8,67.0 433.9,70.4 434.0,66.7 434.2,67.9 434.3,64.2 434.4,65.1 434.5,61.3 434.7,61.8 434.8,58.6 434.9,59.7 435.1,58.4 435.3,62.1 435.5,61.4 435.7,64.4 435.9,64.6 436.1,65.1 436.2,61.5 436.3,61.6 436.5,58.5 436.6,59.3 436.7,55.6 436.8,56.1 437.0,52.9 437.1,56.2 437.1,55.4 437.2,59.1 437.3,58.6 437.4,61.8 437.5,61.8 437.6,64.3 437.7,64.1 437.9,68.2 438.0,68.2" fill="none" stroke="#000" stroke-width="0.9" stroke-linejoin="round"/>
<polyline points="442.1,78.6 442.2,74.2 442.3,74.7 442.4,72.2 442.6,72.5 442.8,71.6 443.0,75.5 443.2,75.2 443.4,78.6 443.6,78.1 443.8,81.7 443.9,81.5 444.1,84.5 444.1,81.4 444.2,82.1 444.2,78.0 444.3,79.6 444.3,75.8 444.4,76.3 444.4,73.3 444.4,73.2 444.5,70.9 444.5,70.9 444.6,67.8 444.6,68.1 445.1,63.9 445.6,64.3 445.9,60.8 446.1,61.0 446.4,58.3 446.6,58.1 446.9,55.2 447.1,58.4 447.3,57.6 447.5,61.8 447.7,61.6 448.0,65.3 448.3,64.3 448.7,68.5 448.9,64.4 449.2,65.5 449.5,61.5 449.7,62.1 450.2,60.8 450.7,64.7 450.8,61.3 450.9,61.8 451.0,57.9 451.1,58.7 451.2,55.4 451.3,56.0 451.4,52.2 451.4,53.2 451.5,49.6 451.6,53.1 451.7,52.3 451.8,56.4 451.9,55.5 451.9,58.8 452.0,57.7 452.1,61.7 452.2,60.9 452.3,63.3" fill="none" stroke="#000" stroke-width="0.9" stroke-linejoin="round"/>
<polyline points="455.6,90.4 455.6,90.0 455.6,93.2 455.7,92.7 455.7,96.3 455.7,96.0 455.7,98.4 455.7,98.0 455.7,101.4 455.7,101.3 455.8,104.9 455.8,103.8 455.8,107.5 455.8,106.6 455.8,110.0 455.8,109.7 455.8,112.7 455.9,111.7 455.9,115.4 455.9,114.5 455.9,118.3 455.9,118.0 455.9,121.1 456.0,120.2 456.0,123.4 456.0,123.5 456.0,126.7 456.0,125.8 456.0,129.3 456.0,128.1 456.1,132.0 456.1,130.8 456.1,134.4 456.1,133.7 456.1,137.2 456.1,136.3 456.1,137.7 456.2,134.4 456.2,134.2 456.2,131.6 456.2,132.4 456.2,128.6 456.3,129.3 456.3,126.1 456.3,126.4 456.3,123.2 456.3,123.5 456.4,120.3 456.4,121.1 456.4,117.3 456.4,118.4 456.5,114.5 456.5,115.9 456.5,111.7 456.5,113.0 456.5,109.9 456.6,110.5 456.6,106.3 456.6,107.8 456.6,104.0 456.6,104.9 456.7,101.7 456.7,102.3 456.7,98.6 456.7,99.0 456.7,96.4 456.8,96.8 456.8,92.7 456.8,93.3 456.8,90.1 456.8,90.9 457.0,88.0 457.1,87.8 457.2,84.4 457.3,85.5 457.5,82.2 457.6,82.3 457.7,79.3 457.8,79.6 457.9,76.2 458.0,76.9 458.1,72.6 458.3,73.6 458.4,69.7 458.6,73.5 458.9,73.7 459.1,76.8 459.4,76.7 459.5,76.4 459.6,73.5 459.7,74.1 459.8,71.0 459.9,70.7 460.0,67.5 460.1,68.2 460.2,64.6 460.3,66.0 460.4,62.4 460.7,65.7 460.9,65.3 461.2,68.9 461.4,68.2 461.6,68.8 461.8,65.2 461.9,66.2 462.1,62.3 462.3,62.7 462.4,59.1 462.6,59.6 462.7,56.8 462.9,57.7 463.0,53.9 463.2,54.6 463.3,51.8 463.5,51.7 463.6,51.2 463.8,54.1 464.0,54.0 464.1,57.6 464.3,57.4 464.5,60.4 465.0,56.4 465.5,56.5 465.7,56.0 465.9,59.5 466.0,58.6 466.2,61.3" fill="none" stroke="#000" stroke-width="0.9" stroke-linejoin="round"/>
<polyline points="470.1,73.9 470.6,70.7 471.1,70.1 471.3,70.3 471.4,73.1 471.6,73.3 471.7,74.2 471.9,70.2 472.0,71.3 472.1,68.1 472.3,68.4 472.4,65.3 472.5,65.3 472.6,62.7 473.1,65.9 473.7,65.8 473.8,67.2 474.0,63.3 474.1,64.5 474.3,61.2 474.4,61.3 474.6,58.1 474.7,59.1 474.9,55.2 475.0,56.6 475.2,53.3 475.4,56.5 475.7,55.9 475.9,59.7 476.2,59.7 476.5,62.9 476.9,63.1 477.2,66.7 477.3,62.3 477.4,63.1 477.5,59.7 477.6,60.3 477.7,56.3 477.9,57.2 478.1,53.0 478.2,53.8 478.4,50.5 478.6,50.9 478.7,47.5 478.8,50.5 478.9,50.6 479.0,54.1 479.1,53.9 479.2,56.3 479.3,56.2 479.8,56.1 480.3,52.3 480.5,56.3 480.8,57.3" fill="none" stroke="#000" stroke-width="0.9" stroke-linejoin="round"/>
<polyline points="483.7,80.2 483.9,76.4 484.0,77.5 484.2,73.3 484.4,74.4 484.5,70.4 484.6,70.9 484.7,68.2 484.8,69.2 484.9,65.3 485.0,66.4 485.2,63.1 485.3,63.2 485.4,63.0 485.6,66.1 485.7,65.4 485.8,68.3 486.0,68.6 486.2,68.4 486.4,64.7 486.5,65.7 486.7,62.3 486.9,62.6 487.1,62.1 487.3,65.2 487.5,64.9 487.7,67.3 487.9,66.9 488.3,67.2 488.6,64.3 488.9,64.7 489.4,62.4 490.0,65.0 490.1,61.4 490.2,62.5 490.4,58.9 490.5,59.4 490.7,55.9 491.1,57.0 491.5,52.9 491.5,54.3 491.6,50.8 491.7,51.0 491.7,48.1 491.8,48.0 491.8,45.4 491.9,45.3 491.9,42.1 492.0,42.2 492.0,39.2 492.1,39.8 492.2,39.7 492.3,43.2 492.4,42.5 492.5,45.7 492.6,45.5 492.7,49.1 492.8,48.9 493.5,49.9 493.7,49.4 493.8,52.6 493.9,51.5 494.0,54.8 494.7,56.3" fill="none" stroke="#000" stroke-width="0.9" stroke-linejoin="round"/>
<polyline points="497.6,70.2 497.7,69.0 497.8,72.7 497.9,72.4 497.9,75.0 498.0,74.8 498.1,78.3 498.2,77.5 498.3,81.0 498.4,80.3 498.5,83.7 498.6,83.1 498.6,87.0 498.7,86.3 498.8,89.6 498.9,88.8 499.0,92.0 499.1,91.8 499.2,95.5 499.2,94.9 499.3,98.3 499.4,94.5 499.5,95.6 499.6,92.1 499.6,92.1 499.7,88.9 499.8,90.1 499.9,86.5 500.0,86.6 500.0,84.0 500.1,84.4 500.2,81.2 500.3,82.0 500.4,78.1 500.5,78.4 500.7,75.2 500.8,75.8 501.0,72.2 501.2,73.6 501.7,69.5 502.2,69.9 502.3,69.0 502.4,72.9 502.5,71.5 502.5,74.9 502.6,75.0 502.7,78.4 502.8,78.0 502.9,81.2 503.1,81.2 503.2,84.7 503.4,83.9 503.6,87.1 503.7,86.9 503.8,87.5 503.8,84.7 503.9,84.9 504.0,81.9 504.0,81.8 504.1,78.4 504.1,79.5 504.2,76.5 504.3,76.8 504.3,73.7 504.5,76.4 504.6,75.6 504.7,79.5 504.9,79.1 505.0,82.1 505.1,81.8 505.2,84.7 505.4,81.2 505.5,81.8 505.6,79.0 505.7,79.7 505.8,76.2 505.9,77.1 506.1,73.5 506.2,77.1 506.3,75.7 506.4,79.6 506.5,78.5 506.6,82.2 506.7,81.4 506.8,85.4 506.8,81.7 506.9,82.2 507.0,78.7 507.1,79.3 507.1,76.5 507.2,76.8 507.3,73.5 507.4,76.6 507.5,75.9 507.7,79.3 507.8,79.7 507.9,82.2 508.0,82.1 508.2,85.4 508.3,85.4 508.4,85.6 508.4,81.9 508.5,82.6 508.5,79.7 508.6,79.2" fill="none" stroke="#000" stroke-width="0.9" stroke-linejoin="round"/>
<polyline points="512.4,108.7 512.4,106.0 512.5,106.4 512.5,103.4 512.5,103.5 512.6,100.4 512.6,100.3 512.7,97.5 512.7,97.6 512.7,94.9 512.8,95.0 512.8,92.5 512.9,92.6 512.9,89.1 512.9,89.6 513.0,87.0 513.0,87.4 513.1,83.6 513.1,84.7 513.2,81.4 513.2,82.4 513.2,79.1 513.3,79.6 513.3,76.1 513.4,76.1 513.4,73.6 513.5,73.6 513.6,70.2 513.7,70.7 513.8,67.7 513.8,68.5 513.9,65.2 514.0,65.7 514.1,62.8 514.2,65.1 514.3,65.3 514.3,68.5 514.4,67.8 514.5,70.9 514.6,70.4 514.6,73.7 514.7,73.4 515.0,77.1 515.2,76.3 515.4,79.9 515.7,76.5 515.9,76.8 516.1,72.8 516.2,76.8 516.3,76.3 516.4,80.0 516.4,79.4 516.5,82.3 516.6,81.6 516.7,84.9 516.7,84.8 516.8,87.7 516.9,87.5 517.0,91.3 517.0,87.7 517.1,88.7 517.1,85.2 517.2,85.8 517.2,82.2 517.3,83.0 517.4,79.7 517.4,80.6 517.5,76.5 517.5,77.5 517.6,74.0 517.8,77.2 518.0,77.0 518.3,80.8 518.5,79.7 518.7,84.0 518.9,83.6 519.1,86.8 519.3,86.3 519.5,89.5 519.6,86.8 519.7,86.9 519.8,84.3 519.9,84.0 520.0,80.9 520.1,81.3 520.2,78.6 520.3,78.8 520.4,75.2 520.5,75.7 520.8,75.8 521.0,79.2 521.3,78.3 521.5,82.4 522.1,78.3 522.6,78.2" fill="none" stroke="#000" stroke-width="0.9" stroke-linejoin="round"/>
<polyline points="526.2,99.1 526.5,95.4 526.7,95.8 526.9,92.5 527.2,92.6 527.8,89.4 528.4,89.6 528.5,88.9 528.5,92.2 528.6,91.6 528.7,95.0 528.8,94.6 528.8,97.7 528.9,97.2 529.0,100.5 529.1,97.8 529.2,97.5 529.3,94.8 529.4,94.9 529.5,91.2 529.6,91.9 529.7,89.0 529.8,88.8 530.0,88.1 530.1,91.6 530.3,91.5 530.4,94.9 530.6,94.4 530.7,97.8 530.9,94.4 531.0,95.1 531.2,91.6 531.3,92.7 531.4,88.9 531.6,89.1 531.7,86.6 531.8,89.9 531.9,88.9 532.0,91.9 532.1,91.2 532.2,95.1 532.4,91.3 532.5,92.4 532.6,88.8 532.8,88.9 532.9,85.2 533.0,85.7 533.1,82.4 533.3,82.7 533.4,79.5 533.6,80.5 533.7,76.4 533.9,77.8 534.0,74.1 534.1,74.3 534.3,71.6 534.8,75.2 535.3,75.2 535.5,78.3 535.7,78.0 535.9,81.9 536.1,81.4 536.3,84.8 536.5,81.9 536.6,81.6 536.7,78.8 536.8,78.2" fill="none" stroke="#000" stroke-width="0.9" stroke-linejoin="round"/>
<polyline points="540.4,117.8 540.5,117.5 540.7,120.4 540.8,120.0 540.9,123.3 541.3,120.4 541.6,121.2 541.8,117.7 542.0,117.7 542.1,114.0 542.3,114.0 542.4,111.1 542.7,111.1 542.9,107.0 543.2,107.1 543.5,103.4 544.0,105.6 544.5,105.4 544.7,105.5 544.9,101.8 545.1,102.8 545.3,99.1 545.5,99.8 546.0,96.3 546.5,96.6 546.7,93.8 546.9,94.2 547.1,90.4 547.3,91.0 547.7,91.2 548.0,94.1 548.4,94.4 548.6,94.4 548.8,91.0 549.0,91.5 549.2,88.1 549.4,89.4 549.9,89.6 550.4,92.9 550.5,92.6 550.7,95.5 550.8,96.5" fill="none" stroke="#000" stroke-width="0.9" stroke-linejoin="round"/>
<polyline points="554.2,119.9 554.7,118.9 555.2,121.9 555.4,118.8 555.6,119.3 555.8,115.4 556.0,116.4 556.2,113.3 556.7,112.9 557.2,109.1 557.7,108.9 558.2,105.0 558.4,109.4 558.5,108.9 558.7,112.3 558.8,111.3 559.0,114.7 559.1,114.6 559.3,118.0 559.4,114.4 559.5,114.8 559.7,111.0 559.8,111.1 560.0,107.7 560.2,108.7 560.5,104.2 560.8,105.0 561.1,101.8 561.5,101.1 561.8,98.4 561.9,101.9 561.9,101.2 562.0,104.3 562.1,103.6 562.1,107.2 562.2,106.9 562.2,110.3 562.3,110.4 562.5,110.5 562.7,106.6 562.8,107.1 563.0,104.3 563.2,104.3 563.3,101.5 563.5,101.4 563.7,97.5 563.9,98.3 564.1,94.6 564.3,95.4 564.4,94.9 564.5,98.0 564.5,97.5 564.6,100.9 564.7,100.7 564.7,104.0 564.8,103.6 564.9,106.2 564.9,105.7 565.0,109.9 565.1,109.9" fill="none" stroke="#000" stroke-width="0.9" stroke-linejoin="round"/>
<polyline points="568.4,118.8 568.5,118.4 568.6,122.4 568.7,121.7 568.8,125.2 568.9,124.7 569.0,127.8 569.0,127.5 569.1,130.9 569.1,129.9 569.2,133.1 569.2,133.1 569.3,135.8 569.3,135.3 569.4,139.1 569.4,138.8 569.5,142.1 569.5,140.5 569.6,144.4 569.6,143.6 569.7,143.9 569.8,141.4 569.8,141.4 569.9,138.5 569.9,138.3 570.0,135.5 570.0,135.3 570.1,132.5 570.1,132.9 570.2,129.3 570.2,130.2 570.3,126.7 570.5,127.4 570.7,123.9 571.0,124.5 571.2,121.5 571.5,122.3 571.6,120.8 571.7,125.0 571.8,123.9 571.9,127.3 572.0,127.2 572.1,130.1 572.2,130.2 572.3,130.6 572.3,127.1 572.4,127.9 572.5,124.3 572.5,125.2 572.6,121.0 572.7,121.4 572.7,118.8 572.8,119.5 572.9,115.8 572.9,116.8 573.0,113.0 573.1,113.0 573.2,109.9 573.4,110.9 573.5,107.5 573.6,107.3 573.7,104.6 573.8,105.4 574.1,104.4 574.3,107.8 574.5,108.2 574.7,108.1 574.8,105.6 575.0,105.9 575.1,102.6 575.3,102.9 575.4,99.5 575.6,99.6 575.6,96.3 575.7,96.6 575.8,93.4 575.9,93.6 576.0,90.7 576.1,90.7 576.6,88.3 577.1,89.5 577.2,88.4 577.3,92.0 577.4,91.5 577.5,95.1 577.6,95.2 577.9,99.0 578.3,98.2 578.6,101.0" fill="none" stroke="#000" stroke-width="0.9" stroke-linejoin="round"/>
<polyline points="582.7,119.8 582.7,119.2 582.8,122.9 582.8,122.6 582.8,125.0 582.9,125.2 582.9,128.2 582.9,127.6 583.0,131.5 583.0,130.7 583.1,134.2 583.2,133.4 583.4,136.6 583.5,136.5 583.6,139.4 583.7,138.8 584.1,139.2 584.4,135.9 584.7,136.2 585.2,133.6 585.7,134.5 585.8,131.5 585.9,132.2 586.0,129.1 586.1,128.6 586.2,125.3 586.3,126.3 586.3,123.4 586.4,124.0 586.5,119.6 586.6,120.2 586.7,117.4 586.8,117.5 586.9,117.6 587.1,120.9 587.3,120.7 587.4,124.0 587.6,123.8 587.8,126.4 587.9,123.1 587.9,123.8 588.0,120.7 588.1,121.2 588.2,117.8 588.2,118.1 588.3,115.4 588.5,118.7 588.6,117.6 588.8,122.1 588.9,121.1 589.1,124.6 589.2,121.5 589.4,122.0 589.5,118.2 589.6,118.4 589.7,115.7 589.9,115.7 590.0,112.4 590.1,113.2 590.4,109.3 590.6,109.1 590.8,105.6 591.0,109.3 591.1,108.9 591.2,112.1 591.4,112.0 591.5,115.2 591.6,114.6 591.7,117.9 591.9,117.8 592.1,121.0 592.4,120.7 592.6,123.8 592.9,124.8" fill="none" stroke="#000" stroke-width="0.9" stroke-linejoin="round"/>
<polyline points="598.3,128.1 598.3,127.7 598.4,131.5 598.5,130.5 598.5,133.9 598.6,134.1 598.6,136.8 598.7,137.0 599.1,137.4 599.5,134.1 599.6,137.1 599.8,136.8 599.9,139.6 600.1,139.4 600.2,143.0 600.4,142.1 600.6,145.1 600.8,145.4 601.0,148.2 600.5,144.8 600.0,145.9 599.5,142.7 599.0,144.6 598.5,141.4 598.0,145.1 597.5,143.4 597.4,146.9 597.3,146.3 597.2,150.1 597.1,150.6" fill="none" stroke="#000" stroke-width="0.9" stroke-linejoin="round"/>
<polyline points="602.6,163.1 602.8,162.7 603.0,166.4 603.2,165.3 603.4,168.8 603.6,168.7 604.0,168.7 604.4,164.4 604.5,167.8 604.7,167.5 604.8,171.1 605.0,170.6 605.1,174.0 605.3,174.3 605.4,178.0 605.5,177.4 605.7,180.5 605.8,180.1 606.2,181.0 606.6,177.8 606.7,180.8 606.7,180.1 606.8,183.2 606.8,182.9 606.9,186.0 606.9,186.0 607.0,188.8 607.0,189.0 607.1,192.5 607.2,191.6 607.2,195.3 607.3,194.4 607.6,198.3 607.9,199.2" fill="none" stroke="#000" stroke-width="0.9" stroke-linejoin="round"/>
<polyline points="611.0,211.6 611.3,211.3 611.5,214.7 611.7,214.5 611.8,218.0 611.9,217.4 611.9,220.6 612.0,219.4 612.1,223.3 612.1,221.8 612.2,225.4 612.3,225.2 612.3,228.6 612.4,225.2 612.5,225.2 612.6,222.3 612.7,222.9 612.8,218.7 612.9,219.8 613.0,216.4 613.8,216.5 613.9,212.7 614.0,213.0 614.1,210.0 614.2,210.4 614.3,207.6 614.4,207.7 614.5,204.4 614.6,204.7 614.6,200.8 614.7,201.8 614.8,198.4 614.9,199.1 615.0,194.8 615.1,195.6 615.2,191.6 615.4,192.0 615.5,189.3 615.6,188.9 615.8,185.2 616.0,186.2 616.2,182.2 616.7,185.1 617.1,184.4 617.3,188.3 617.5,188.0 617.7,190.7 617.9,191.2 618.1,194.2 618.2,190.6 618.4,191.5 618.5,188.2 618.7,188.7 618.9,185.7 619.0,189.3 619.2,188.5 619.4,191.5 619.5,191.5 619.7,195.1 619.9,194.5 620.1,195.1 620.2,191.3 620.4,191.4 620.5,188.4 620.7,188.7 621.0,188.0 621.3,191.3" fill="none" stroke="#000" stroke-width="0.9" stroke-linejoin="round"/>
<polyline points="624.5,224.4 624.6,224.0 624.6,227.2 624.7,226.7 624.8,229.9 624.9,229.2 625.0,232.4 625.1,232.0 625.2,234.9 625.2,235.1 625.3,238.0 625.4,238.0 625.5,241.1 625.5,240.5 625.5,243.9 625.6,242.5 625.6,246.0 625.6,245.3 625.7,249.3 625.7,248.2 625.7,251.2 625.7,251.2 625.8,254.6 625.8,254.0 625.9,254.0 625.9,251.1 626.0,251.2 626.1,247.8 626.1,248.4 626.2,245.3 626.3,245.8 626.3,241.8 626.4,242.6 626.4,239.9 626.5,240.4 626.7,236.1 626.9,237.2 627.0,233.5 627.2,233.7 627.4,230.9 627.5,230.8 627.9,227.6 628.2,227.5 628.6,224.4 628.6,228.1 628.7,227.7 628.8,230.9 628.8,229.9 628.9,233.6 629.0,232.6 629.0,236.2 629.1,235.3 629.2,238.7 629.3,238.0 629.4,238.0 629.6,235.6 629.8,235.4 629.9,232.5 630.1,232.8 630.2,229.6 630.4,230.4 630.5,227.1 630.7,227.4 630.8,224.3 631.0,225.3 631.1,221.3 631.2,225.2 631.3,224.2 631.4,227.7 631.6,228.0 631.7,230.5 631.8,230.9 631.9,233.4 632.1,233.3 632.2,237.2 632.3,236.6 632.5,239.7 632.6,238.5 632.7,239.7 632.8,236.5 632.9,236.8 633.0,233.5 633.1,233.5 633.2,231.0 633.3,231.0 634.2,228.6 634.3,229.1 634.4,226.6 634.6,226.6 634.7,223.9 634.8,223.9 635.0,221.6" fill="none" stroke="#000" stroke-width="0.9" stroke-linejoin="round"/>
<polyline points="638.2,240.4 638.4,236.8 638.7,238.2 638.9,234.6 639.1,235.3 639.3,231.5 639.5,232.5 639.8,229.4 639.9,229.1 639.9,226.4 640.0,227.2 640.1,223.9 640.2,224.2 640.3,221.1 640.4,221.9 640.5,217.7 640.6,218.7 640.7,215.0 640.8,215.6 640.9,212.4 641.1,213.6 641.2,210.3 641.4,210.6 641.5,207.0 641.7,208.0 641.8,204.5 642.1,204.5 642.5,200.5 642.8,201.3 643.1,197.5 643.3,196.8 643.8,192.8 644.3,193.2 644.9,188.8 645.0,189.4 645.1,186.0 645.2,187.1 645.4,182.9 645.5,183.3 645.6,180.5 645.7,180.4 645.9,177.2 646.1,180.6 646.3,179.7 646.5,183.4 646.7,182.7 646.9,186.7 647.1,186.3 647.4,189.7 647.6,188.9 647.7,189.9 647.7,186.6 647.8,186.7 647.9,183.3 647.9,183.8 648.0,180.6 648.1,181.3 648.2,177.8 648.2,178.0 648.6,174.5 648.9,173.9" fill="none" stroke="#000" stroke-width="0.9" stroke-linejoin="round"/>
<polyline points="652.5,196.9 653.0,193.8 653.5,194.4 654.0,191.6 654.2,191.8 654.3,188.3 654.4,188.8 654.5,185.4 654.7,185.6 654.8,182.6 654.9,183.0 655.0,179.6 655.2,180.1 655.3,176.3 655.5,177.6 655.6,173.4 655.8,174.1 656.0,171.1 656.2,171.5 656.4,167.6 656.6,167.7 656.8,164.3 657.2,164.9 657.6,160.2 658.1,161.2 658.6,158.8 658.7,161.5 658.7,161.0 658.8,164.7 658.9,164.3 658.9,168.0 659.0,167.4 659.1,171.0 659.1,170.1 659.3,170.9 659.5,167.5 659.7,167.2 659.9,164.1 660.1,164.9 660.3,161.5 660.5,161.8 660.7,158.0 661.2,157.8 661.7,154.5 661.7,155.0 661.8,151.6 661.9,152.0 662.0,148.8 662.1,149.0 662.1,145.9 662.2,146.8 662.3,143.4 662.4,143.8 662.4,140.4 662.5,141.6 662.6,138.0 662.7,138.2 662.8,135.7 662.8,135.5 662.9,133.1 663.0,132.2" fill="none" stroke="#000" stroke-width="0.9" stroke-linejoin="round"/>
<polyline points="666.7,145.5 666.9,144.4 667.2,148.0 667.4,147.4 667.7,150.6 667.9,149.6 668.2,153.2 668.4,153.2 668.7,155.9 668.8,155.9 669.0,158.8 669.1,158.7 669.3,161.4 669.4,161.5 669.6,164.4 669.7,164.1 669.9,167.1 670.1,167.3 670.3,169.9 670.5,169.6 670.7,172.8 670.9,172.2 671.1,176.0 671.3,175.2 671.5,178.1 671.7,177.7 671.9,178.6 672.2,175.1 672.4,175.6 672.7,172.2 672.9,172.8 673.2,168.6 673.4,169.7 673.7,165.5 674.2,167.2 674.7,165.0 675.2,166.8 675.7,163.8 675.8,164.6 675.9,161.8 675.9,162.1 676.0,159.1 676.0,159.5 676.1,156.5 676.1,156.5 676.2,153.3 676.3,153.5 676.3,150.6 676.4,151.1 676.4,148.0 676.5,148.8 676.6,144.8 676.6,146.1 676.7,142.7 676.7,142.5 676.8,139.8 676.9,139.9 676.9,136.8 677.0,137.3 677.0,134.7 677.1,134.6 677.2,132.5" fill="none" stroke="#000" stroke-width="0.9" stroke-linejoin="round"/>
<polyline points="680.8,168.4 681.0,167.3 681.1,171.2 681.2,170.1 681.3,173.7 681.5,173.3 681.6,177.3 681.7,176.0 681.8,179.9 681.9,176.9 682.0,177.1 682.1,173.3 682.2,174.0 682.3,171.3 682.4,172.2 682.4,168.5 682.5,168.7 682.6,165.9 682.7,166.8 682.8,163.2 682.9,163.5 683.0,160.2 683.0,161.2 683.1,157.6 683.2,157.8 683.3,154.8 683.4,155.0 683.5,152.6 683.7,152.2 683.9,148.7 684.1,149.0 684.3,145.5 684.9,149.2 685.4,150.0 685.6,149.5 685.7,146.2 685.8,147.2 686.0,143.6 686.1,143.4 686.8,140.7 687.5,140.8 687.7,140.6 687.9,143.6 688.2,143.5 688.7,144.7 689.2,141.8 689.4,144.7 689.6,144.3 689.8,147.9 690.0,147.3 690.2,150.2 690.9,147.6" fill="none" stroke="#000" stroke-width="0.9" stroke-linejoin="round"/>
<polyline points="695.0,169.6 695.2,166.4 695.4,167.3 695.6,163.9 695.8,164.1 696.0,160.8 696.2,162.0 696.4,158.3 696.6,158.9 696.8,155.9 697.3,155.0 697.8,151.8 698.4,155.6 698.9,156.0 699.0,156.3 699.1,152.9 699.2,152.8 699.4,150.1 699.5,150.6 699.6,146.4 699.8,147.5 699.9,143.6 700.1,143.7 700.3,141.1 700.5,141.4 700.7,138.5 700.9,139.1 701.4,134.9 701.9,134.3 702.0,131.1 702.1,131.6 702.2,128.2 702.2,129.1 702.3,125.8 702.4,126.3 702.5,123.1 702.6,123.3 702.6,120.8 702.7,124.1 702.8,123.5 702.9,126.9 703.0,126.4 703.0,130.0 703.1,128.6 703.2,132.6 703.3,131.6 703.4,135.3 703.5,134.5 703.6,134.9 703.7,131.9 703.9,132.8 704.0,129.4 704.2,130.0 704.3,125.8 704.5,126.7 704.6,123.4 704.8,123.5 704.9,120.1 705.1,119.3" fill="none" stroke="#000" stroke-width="0.9" stroke-linejoin="round"/>
<polyline points="709.2,148.4 709.3,147.9 709.4,150.5 709.5,150.1 709.6,153.8 709.8,154.1 709.9,157.4 710.4,156.5 711.0,159.8 711.6,158.8 712.1,162.0 712.5,161.2 712.9,164.5 713.3,163.4 713.6,167.4 713.9,166.3 714.2,170.3 714.5,170.1 714.8,173.4 715.1,172.4 715.4,175.6 715.6,175.6 715.9,178.9 716.2,177.9 716.5,181.8 716.7,180.6 717.0,184.7 717.2,183.7 717.2,184.6 717.3,180.9 717.3,181.4 717.4,177.9 717.4,178.7 717.4,175.3 717.5,176.7 717.5,172.8 717.6,173.1 717.6,169.9 717.6,171.0 717.7,167.8 717.7,167.6 717.8,164.8 717.8,164.9 717.8,161.6 717.9,162.7 717.9,159.3 717.9,159.8 718.0,156.5 718.0,157.7 718.1,154.1 718.2,154.3 718.2,151.1 718.3,151.5 718.4,148.3 718.5,149.0 718.5,145.7 718.6,146.4 718.7,142.8 718.8,143.0 718.8,139.6 718.9,140.5 719.0,137.4 719.0,136.9" fill="none" stroke="#000" stroke-width="0.9" stroke-linejoin="round"/>
<polyline points="722.4,166.3 722.6,162.0 722.8,163.4 722.9,160.0 723.1,160.2 723.3,156.8 723.5,157.3 723.7,154.2 723.8,154.0 724.0,151.0 724.2,151.2 724.3,148.2 724.5,148.1 724.7,145.7 724.9,146.0 725.0,142.5 725.2,142.9 725.4,139.3 725.6,139.9 725.9,137.1 726.2,137.5 726.5,133.7 726.8,134.5 726.9,130.8 727.0,131.9 727.1,128.2 727.2,128.8 727.3,125.3 727.4,125.8 727.6,122.2 727.7,122.7 727.8,119.9 727.9,120.0 728.0,116.4 728.1,117.2 728.2,113.8 728.3,114.4 728.7,114.1 729.0,116.8 729.4,116.8 729.7,120.3 730.3,117.0 730.8,116.8 731.3,114.2 731.7,114.1 732.2,111.7 732.7,112.3 732.9,111.5 733.1,115.2 733.2,115.2 733.4,117.7" fill="none" stroke="#000" stroke-width="0.9" stroke-linejoin="round"/>
<polyline points="736.4,130.3 736.4,129.1 736.5,132.4 736.6,131.7 736.6,135.2 736.7,134.8 736.8,137.8 736.8,137.4 736.9,140.6 737.0,140.2 737.0,143.9 737.1,142.8 737.2,146.4 737.3,145.5 737.3,149.7 737.4,149.0 737.5,151.9 737.5,150.8 737.6,154.9 737.7,154.1 737.7,157.1 737.8,156.3 737.9,156.9 738.0,153.8 738.1,155.0 738.2,151.7 738.2,151.8 738.3,148.9 738.4,149.3 738.5,146.1 738.6,147.0 738.7,142.9 738.8,143.7 738.9,140.2 739.0,140.7 739.1,138.3 739.1,138.7 739.2,134.9 739.3,136.1 739.5,134.8 739.7,139.0 739.9,138.4 740.1,141.8 740.3,140.6 740.5,144.0 740.7,143.9 740.9,144.0 741.0,141.4 741.1,141.5 741.2,138.0 741.3,139.2 741.4,135.7 741.5,135.8 741.6,131.9 741.7,133.2 741.8,129.5 742.0,129.8 742.1,126.6 742.2,127.0 742.3,123.7 742.6,124.3 743.0,120.7 743.3,121.2 743.7,117.5 744.2,120.9 744.7,120.3 745.2,124.0 745.4,121.1 745.6,121.3 745.8,117.8 746.0,118.5 746.3,115.0 746.5,115.0 746.7,112.1 746.8,115.1 747.0,115.0 747.2,118.3 747.4,119.0" fill="none" stroke="#000" stroke-width="0.9" stroke-linejoin="round"/>
<polyline points="751.0,147.1 751.2,143.4 751.4,144.7 751.6,141.3 751.8,141.9 752.0,138.0 752.2,138.2 752.4,134.8 752.6,135.5 752.7,132.6 752.9,132.8 753.0,129.4 753.1,129.6 753.3,126.5 753.4,127.5 753.6,123.8 753.7,124.6 753.9,120.8 754.0,121.7 754.5,118.9 755.0,119.4 755.5,116.7 755.8,116.6 756.1,113.0 756.4,114.0 756.7,110.8 757.0,110.8 757.1,110.2 757.2,113.1 757.4,113.2 757.5,116.1 757.6,116.1 757.8,119.0 757.9,118.3 758.1,121.3 758.2,120.7 758.3,123.9 758.5,124.2 758.6,124.6 758.8,121.1 758.9,121.2 759.0,117.8 759.2,118.3 759.3,115.9" fill="none" stroke="#000" stroke-width="0.9" stroke-linejoin="round"/>
<polyline points="197.5,102.5 219.0,213.6" fill="none" stroke="#ff0000" stroke-width="1.6" stroke-linejoin="round"/>
<polyline points="422.8,48.4 423.5,54.3 424.0,51.4 424.7,59.3" fill="none" stroke="#000" stroke-width="1.35" stroke-linejoin="round"/>
<polyline points="428.3,80.6 428.8,71.2 429.3,78.2 430.3,63.3 430.9,72.2 431.9,67.2 432.9,59.3 433.9,69.2 434.9,58.3 435.9,65.3 437.0,53.8 437.5,62.3 438.0,68.2" fill="none" stroke="#000" stroke-width="1.35" stroke-linejoin="round"/>
<polyline points="442.1,77.2 442.6,71.2 443.6,79.2 444.1,83.6 444.6,67.2 445.6,63.3 446.9,55.8 447.7,62.3 448.7,67.2 449.7,61.3 450.7,63.3 451.5,50.9 452.3,63.3" fill="none" stroke="#000" stroke-width="1.35" stroke-linejoin="round"/>
<polyline points="455.6,89.7 456.1,137.7 456.8,90.1 457.3,84.1 458.4,71.2 459.4,77.2 460.4,63.3 461.4,69.2 462.4,60.3 463.5,50.9 464.5,59.3 465.5,55.3 466.2,61.3" fill="none" stroke="#000" stroke-width="1.35" stroke-linejoin="round"/>
<polyline points="470.1,73.2 471.1,69.2 471.6,74.2 472.6,63.3 473.7,67.2 475.2,53.8 476.2,60.3 477.2,65.3 477.7,57.3 478.7,48.4 479.3,57.3 480.3,53.4 480.8,57.3" fill="none" stroke="#000" stroke-width="1.35" stroke-linejoin="round"/>
<polyline points="483.7,79.2 484.4,73.2 485.3,62.3 486.0,69.2 486.9,61.3 487.9,68.2 488.9,63.3 490.0,64.3 490.7,57.3 491.5,54.3 492.1,39.0 492.8,49.4 493.5,48.4 494.0,54.3 494.7,56.3" fill="none" stroke="#000" stroke-width="1.35" stroke-linejoin="round"/>
<polyline points="497.6,68.9 499.3,97.0 500.4,79.2 501.2,72.2 502.2,68.7 502.9,80.1 503.7,88.1 504.3,74.2 505.2,84.1 506.1,74.2 506.8,84.1 507.3,74.2 508.3,86.1 508.6,79.2" fill="none" stroke="#000" stroke-width="1.35" stroke-linejoin="round"/>
<polyline points="512.4,107.9 513.4,74.2 514.1,63.3 514.7,74.2 515.4,79.2 516.1,74.2 517.0,90.1 517.6,75.2 518.5,81.1 519.5,89.1 520.5,75.2 521.5,81.1 522.6,78.2" fill="none" stroke="#000" stroke-width="1.35" stroke-linejoin="round"/>
<polyline points="526.2,98.4 527.2,92.1 528.4,88.1 529.0,100.0 529.8,88.1 530.7,97.0 531.7,87.1 532.2,94.0 533.3,82.1 534.3,72.2 535.3,76.2 536.3,84.1 536.8,78.2" fill="none" stroke="#000" stroke-width="1.35" stroke-linejoin="round"/>
<polyline points="540.4,116.9 540.9,122.8 541.6,119.8 542.4,111.9 542.9,107.9 543.5,104.0 544.5,105.9 545.5,99.0 546.5,96.0 547.3,90.1 548.4,95.0 549.4,88.1 550.4,92.1 550.8,96.5" fill="none" stroke="#000" stroke-width="1.35" stroke-linejoin="round"/>
<polyline points="554.2,118.8 555.2,120.8 556.2,113.9 557.2,109.9 558.2,106.4 559.3,116.9 560.0,108.9 560.8,104.0 561.8,99.0 562.3,110.9 563.3,102.0 564.3,94.0 565.1,109.9" fill="none" stroke="#000" stroke-width="1.35" stroke-linejoin="round"/>
<polyline points="568.4,117.9 568.9,125.8 569.6,144.7 570.3,127.8 571.5,120.8 572.2,130.8 573.0,113.9 573.8,104.0 574.5,108.9 575.6,99.0 576.1,90.1 577.1,88.1 577.6,96.0 578.6,101.0" fill="none" stroke="#000" stroke-width="1.35" stroke-linejoin="round"/>
<polyline points="582.7,118.8 583.0,131.7 583.7,140.2 584.7,135.7 585.7,133.7 586.8,116.9 587.8,125.8 588.3,115.9 589.1,123.8 590.1,111.9 590.8,106.9 591.9,118.8 592.9,124.8" fill="none" stroke="#000" stroke-width="1.35" stroke-linejoin="round"/>
<polyline points="598.3,127.4 598.7,137.7 599.5,134.7 600.2,141.7 601.0,147.6 600.0,144.7 598.5,142.7 597.5,144.7 597.1,150.6" fill="none" stroke="#000" stroke-width="1.35" stroke-linejoin="round"/>
<polyline points="602.6,162.5 603.6,169.5 604.4,165.5 605.1,173.4 605.8,181.4 606.6,178.4 607.3,195.3 607.9,199.2" fill="none" stroke="#000" stroke-width="1.35" stroke-linejoin="round"/>
<polyline points="611.0,210.1 611.7,215.1 612.3,227.4 613.0,217.1 613.8,215.1 614.3,208.2 615.0,196.3 615.6,188.3 616.2,183.4 617.1,185.3 618.1,193.3 618.9,186.3 619.9,195.3 620.7,187.3 621.3,191.3" fill="none" stroke="#000" stroke-width="1.35" stroke-linejoin="round"/>
<polyline points="624.5,223.5 625.5,239.9 625.8,254.8 626.5,238.9 627.5,230.0 628.6,225.5 629.3,238.9 630.1,232.0 631.1,222.6 631.9,233.0 632.6,239.9 633.3,230.0 634.2,230.0 635.0,221.6" fill="none" stroke="#000" stroke-width="1.35" stroke-linejoin="round"/>
<polyline points="638.2,239.4 639.8,230.0 640.8,215.1 641.8,205.2 642.8,200.2 643.3,196.3 644.3,192.3 644.9,190.3 645.9,178.4 646.9,185.3 647.6,190.3 648.2,177.4 648.9,173.9" fill="none" stroke="#000" stroke-width="1.35" stroke-linejoin="round"/>
<polyline points="652.5,196.3 654.0,192.3 655.0,180.4 655.8,173.4 656.8,165.5 657.6,161.5 658.6,159.5 659.1,171.4 660.1,163.5 660.7,159.1 661.7,155.2 663.0,132.2" fill="none" stroke="#000" stroke-width="1.35" stroke-linejoin="round"/>
<polyline points="666.7,144.4 668.7,155.2 669.7,165.1 671.7,178.9 673.7,167.0 675.7,165.1 677.2,132.5" fill="none" stroke="#000" stroke-width="1.35" stroke-linejoin="round"/>
<polyline points="680.8,167.0 681.8,178.9 683.5,153.2 684.3,146.6 685.4,150.6 686.1,142.7 687.5,139.7 688.2,144.7 689.2,142.7 690.2,149.6 690.9,147.6" fill="none" stroke="#000" stroke-width="1.35" stroke-linejoin="round"/>
<polyline points="695.0,169.0 696.8,156.6 697.8,152.6 698.9,156.6 699.9,144.7 700.9,137.7 701.9,133.7 702.6,121.3 703.5,135.7 704.5,125.8 705.1,119.3" fill="none" stroke="#000" stroke-width="1.35" stroke-linejoin="round"/>
<polyline points="709.2,146.9 709.9,156.3 712.1,160.5 713.6,166.3 715.1,173.4 716.5,180.4 717.2,184.7 718.0,156.3 719.0,136.9" fill="none" stroke="#000" stroke-width="1.35" stroke-linejoin="round"/>
<polyline points="722.4,164.9 723.8,153.4 725.4,140.5 726.8,133.3 728.3,113.3 729.7,119.0 731.3,114.8 732.7,111.2 733.4,117.7" fill="none" stroke="#000" stroke-width="1.35" stroke-linejoin="round"/>
<polyline points="736.4,129.1 737.8,157.7 739.3,134.8 740.7,144.8 742.3,124.8 743.7,118.4 745.2,123.3 746.7,112.6 747.4,119.0" fill="none" stroke="#000" stroke-width="1.35" stroke-linejoin="round"/>
<polyline points="751.0,146.2 752.6,134.8 754.0,120.4 755.5,117.7 757.0,109.7 758.5,124.8 759.3,115.9" fill="none" stroke="#000" stroke-width="1.35" stroke-linejoin="round"/>
<polyline points="591.0,113.4 606.3,175.6" fill="none" stroke="#ff0000" stroke-width="1.5" stroke-linejoin="round"/>
<polyline points="604.4,173.2 612.4,226.8" fill="none" stroke="#0000ff" stroke-width="1.5" stroke-linejoin="round"/>
<polyline points="29.8,398.0 30.6,394.5 31.6,436.0 33.0,412.0 34.5,427.7 36.0,419.0 37.4,427.7 38.8,420.5 39.8,405.3 41.3,446.5 42.5,426.0 43.9,432.0 45.3,417.6 46.5,413.0 47.5,427.7 49.0,417.6 50.4,436.0 51.4,406.0 52.6,437.8 54.0,419.0 55.5,440.7 56.9,419.0 58.3,429.0 59.8,423.4 61.2,446.5 62.7,456.6 63.8,423.4 64.8,443.6 66.3,426.0 67.7,455.0 69.2,423.4 70.3,381.4 71.4,448.0 72.8,427.7 74.2,449.4 75.7,423.4 77.1,452.0 78.0,453.4 79.4,422.9 80.6,445.8 82.1,432.9 83.4,451.6 84.5,421.3 85.7,447.4 87.1,426.3 88.3,453.3 89.9,431.5 91.6,455.3 93.1,434.6 94.7,454.2 96.3,429.4 97.5,460.3 98.7,425.6 100.0,466.6 101.4,431.5 102.6,466.9 103.9,439.4 105.5,468.2 106.9,449.1 108.1,481.1 109.7,456.3 111.3,474.1 112.4,448.2 113.8,471.8 115.3,440.8 116.4,468.8 118.0,443.6 119.3,464.8 120.4,449.6 121.6,462.1 122.8,449.0 124.3,465.3 125.4,442.7 126.6,458.6 128.1,443.6 129.3,468.1 130.8,434.6 132.3,458.8 133.7,428.3 134.8,461.4 136.1,428.7 137.7,454.2 139.3,435.8 140.7,453.0 142.2,420.3 143.5,447.6 144.6,417.7 145.9,456.5 147.2,438.0 148.5,456.9 150.1,419.5 151.5,451.7 152.7,421.1 154.2,453.3 155.5,419.6 157.2,454.7 158.4,435.3 159.9,441.5 161.5,426.1 162.7,444.4 164.3,421.3 165.9,435.9 167.1,423.5 168.7,444.5 170.0,413.2 171.3,435.9" fill="none" stroke="#000" stroke-width="1.15" stroke-linejoin="round"/>
<polyline points="187.0,372.2 188.6,399.9 190.0,381.5 191.4,408.5 193.1,377.2 194.2,393.4 195.5,385.5 196.8,397.9 198.2,377.8 199.8,402.3 201.4,384.6 203.0,406.3 204.4,374.0 205.8,411.0 207.4,381.9 208.9,405.0 210.5,381.8 212.1,418.3 213.5,320.0 214.8,440.2 216.3,419.8 217.9,459.0 219.4,445.2 220.5,462.2 221.8,442.0 222.9,466.7 224.1,436.4 225.2,470.6 226.4,452.9 228.1,475.2 229.6,457.1 230.7,481.0 232.3,458.6 233.7,486.5 234.9,468.4 236.4,496.2 238.0,476.6 239.1,498.0 240.3,484.2 241.7,495.9 242.9,486.0 244.4,498.0 245.8,468.1 247.1,489.1 248.3,469.6 249.7,485.9 250.9,448.0 252.3,422.0 253.7,460.1 255.2,490.2 256.7,458.6 257.8,486.8 259.4,461.3 260.8,491.2 261.9,457.5 263.1,493.2 264.4,460.3 265.6,489.8 267.1,458.4 268.6,492.8 269.9,451.1 271.3,493.6 273.0,457.1 274.3,484.3 276.0,452.2 277.3,482.0 278.5,457.5 279.9,484.8 281.4,454.9 282.6,486.3 283.8,457.8 285.4,482.4 287.1,454.6 288.5,470.9 289.7,449.1 291.2,435.0 292.9,449.5 294.4,486.2 295.7,451.3 296.9,483.4 298.4,454.4 299.9,479.8 301.1,448.3 302.6,479.6 303.8,451.1 305.2,471.0 306.4,457.5 307.9,471.1 309.2,433.8 310.4,465.3 311.9,428.3 313.5,465.7 314.9,438.5 316.6,471.3 317.9,436.3 319.3,472.7 320.9,400.0 322.4,471.8 323.9,428.0 325.4,462.1 326.8,425.1 328.0,462.2 329.3,438.2 330.7,472.7 332.0,414.9 333.2,472.5 334.5,421.1 336.1,465.4 337.4,433.0 338.9,471.6 340.5,436.5 341.8,464.8 343.1,431.0 344.5,458.0 345.7,434.8 347.4,456.5 348.8,408.1 350.1,448.0 351.7,428.3 353.0,449.2 354.2,417.0 355.6,446.8 357.1,416.1 358.6,439.7 360.0,394.6 361.4,435.3 362.9,414.8" fill="none" stroke="#000" stroke-width="1.15" stroke-linejoin="round"/>
<polyline points="208.8,405.3 237.3,497.2" fill="none" stroke="#ff0000" stroke-width="1.7" stroke-linejoin="round"/>
<polyline points="420.0,453.7 421.0,437.2 421.8,455.9 423.0,421.1 424.0,458.0 425.0,413.5 425.9,432.6 426.9,395.8 427.8,440.0 428.9,415.8 430.1,439.2 431.1,462.0 432.1,460.8 433.2,398.9 434.3,458.3 435.3,402.8 436.2,425.1 436.9,379.5 437.8,345.5 438.8,360.1 439.9,379.0 440.8,346.0 441.6,395.5 442.3,359.1 443.5,406.5 444.5,367.8 445.7,413.1 446.5,359.0 447.4,376.7 448.2,347.3 449.2,332.0 450.2,347.8 451.3,383.6 452.3,348.5 453.1,380.1 454.2,362.1 455.1,387.8 455.9,354.5 456.8,390.3 457.9,356.2 459.0,387.4 460.0,364.3 460.8,395.2 461.9,377.2 463.0,416.4 463.9,430.0 464.6,399.0 465.5,373.0 466.6,398.8 467.4,383.1 468.4,408.8 469.5,383.5 470.7,401.9 471.5,373.9 472.4,393.9 473.2,370.9 474.1,387.9 474.9,358.2 476.0,376.3 476.7,359.8 477.7,380.0 478.4,373.6 479.6,363.7 480.4,385.1 481.4,353.1 482.2,393.0 482.9,351.2 484.0,389.8 484.9,356.3 485.9,386.9 486.8,357.1 487.7,391.5 488.9,348.8 489.6,386.5 490.7,331.5 491.5,377.5 492.6,351.6 493.7,375.7 494.5,332.2 495.6,384.7 496.7,319.5 497.8,379.0 498.8,337.3 499.6,379.0 500.5,338.9 501.2,384.7 502.3,325.4 503.3,309.7 504.5,347.0 505.6,374.0 506.4,330.7 507.3,373.9 508.1,330.8 509.1,371.6 510.1,377.5 510.9,335.7 511.9,378.9 513.0,344.2 514.1,361.4 515.0,330.3 516.1,352.0 516.9,337.7 518.0,350.2 518.9,338.4 519.6,352.4 520.6,340.3 521.5,360.1 522.7,338.4 523.5,361.5 524.7,346.8 525.7,366.5 526.8,346.9 527.9,382.5 528.9,346.8 529.9,371.7 530.7,348.9 531.8,368.9 532.8,350.5 533.7,382.2 534.8,350.1 535.6,391.4 536.5,361.6 537.4,387.4 538.3,364.2 539.1,373.1 539.9,354.8 541.0,361.9 541.9,338.6 542.7,355.4 543.8,334.4 544.7,356.3 545.8,336.4 546.8,353.9 547.8,335.8 548.6,358.5 549.6,335.1 550.8,354.4 551.5,340.1 552.5,362.3 553.5,349.4 554.7,318.4 555.8,338.3 556.8,379.7 557.6,351.0 558.6,381.4 559.5,342.1 560.3,385.8 561.2,350.1 561.9,384.5 562.8,360.6 563.7,386.6 564.5,363.4 565.4,359.9 566.3,379.8 567.1,365.8 568.2,381.7 569.2,362.6 570.4,394.5 571.5,348.7 572.5,391.7 573.2,375.4 574.0,360.1 575.1,384.7 576.3,369.1 577.5,379.7 578.2,365.0 579.4,389.2 580.5,363.4 581.4,390.2 582.2,361.8 583.3,388.0 584.3,375.0 585.4,380.6 586.4,372.8 587.5,378.4 588.3,360.7 589.3,363.9 590.1,359.1 591.1,361.5 591.9,352.5 592.9,370.4 593.7,355.7 594.4,365.5 595.2,353.5 596.2,366.1 597.1,356.3 598.2,373.5 599.1,321.6 600.0,378.4 601.1,340.9 601.9,392.8 602.8,371.9 604.0,396.7 605.0,339.6 606.1,394.2 607.2,360.9 608.1,395.6 609.1,379.5 609.8,409.0 610.7,387.8 611.5,420.5 612.3,395.7 613.4,426.2 614.3,398.6 615.2,429.0 616.3,405.9 617.4,426.9 618.4,416.4 619.5,447.8 620.6,437.4 621.6,434.9 622.3,459.0 623.2,439.5 624.2,471.8 625.1,448.9 626.0,471.7 626.8,453.5 628.0,476.5 629.1,456.1 629.9,483.1 630.8,462.1 631.9,517.0 632.8,466.0 633.9,516.0 634.9,464.0 635.9,508.0 636.8,454.2 637.8,505.3 638.7,503.0 639.9,489.0 640.7,490.0 641.5,479.4 642.4,445.1 643.5,463.0 644.3,446.4 645.3,463.4 646.0,444.0 647.1,474.8 648.2,444.4 649.3,487.0 650.2,460.7 651.0,466.6 651.9,442.9 653.1,478.1 653.9,437.1 654.8,463.0 655.9,438.8 656.8,480.0 657.8,439.3 659.0,467.7 659.8,442.8 660.9,454.8 662.0,443.8 663.1,461.1 663.9,439.6 664.7,474.8 665.9,432.5 666.8,481.8 667.7,436.9 668.6,486.8 669.5,435.6 670.5,480.1 671.6,447.8 672.5,484.7 673.4,453.1 674.5,485.8 675.4,446.1 676.4,464.3 677.4,451.8 678.2,460.4 679.2,441.2 680.3,462.9 681.5,436.0 682.3,476.7 683.1,390.3 684.2,429.4 685.1,474.5 686.1,435.9 686.8,471.3 687.6,441.5 688.7,464.2 689.7,432.8 690.4,462.8 691.4,431.1 692.3,467.2 693.5,428.6 694.4,466.3 695.4,427.9 696.5,460.3 697.4,429.1 698.2,456.8 699.4,425.2 700.1,455.5 701.2,431.7 702.0,460.5 702.9,434.8 703.9,474.3 704.9,423.8 705.8,465.8 706.7,440.9 707.7,454.6 708.7,427.1 709.6,442.7 710.6,419.2 711.4,438.6 712.4,415.8 713.4,436.2 714.4,415.5 715.6,456.4 716.6,417.4 717.7,445.4 718.5,412.0 719.3,438.2 720.1,408.8 721.1,431.9 721.9,402.0 722.8,451.7 723.7,410.8 724.9,419.4 725.8,393.3 726.8,439.7 728.0,398.5 728.7,463.0 729.7,416.2 730.5,475.8 731.4,423.2 732.4,474.4 733.4,423.9 734.2,458.0 735.1,421.2 736.0,453.9 737.1,427.4 738.2,380.0 739.2,423.8 740.0,441.6 740.7,425.3 741.6,438.9 742.7,421.6 743.4,430.1 744.6,417.1 745.7,442.2 746.5,406.6 747.4,439.2 748.3,382.7 749.1,428.2 750.0,403.0 751.1,440.1 751.9,416.1 752.7,440.4 753.6,421.5 754.5,440.6 755.4,422.3 756.2,438.2 757.3,423.0 758.1,434.7 758.9,422.0 759.6,434.5" fill="none" stroke="#000" stroke-width="1.05" stroke-linejoin="round"/>
<polyline points="607.1,382.7 631.4,482.5" fill="none" stroke="#ff0000" stroke-width="1.7" stroke-linejoin="round"/>
</svg></body></html>
